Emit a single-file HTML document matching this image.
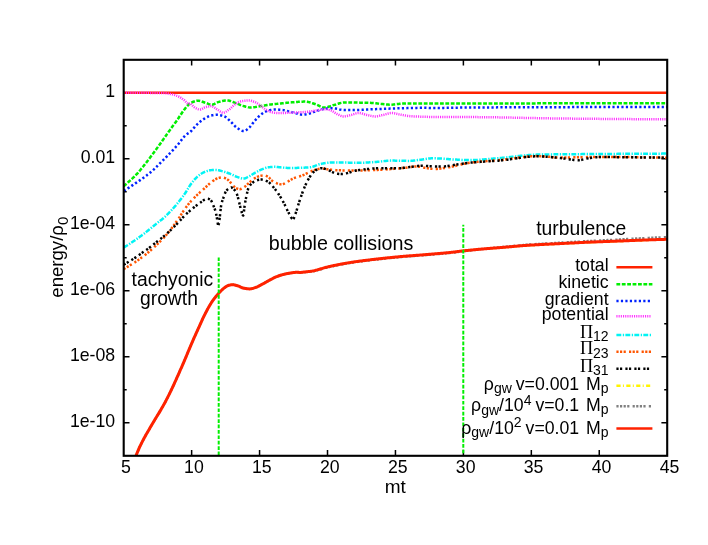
<!DOCTYPE html>
<html><head><meta charset="utf-8"><title>plot</title>
<style>
html,body{margin:0;padding:0;background:#fff}
#c{position:relative;width:708px;height:545px;background:#fff;overflow:hidden;font-family:"Liberation Sans",sans-serif;color:#000}
.t{position:absolute;white-space:nowrap;font-family:"Liberation Sans",sans-serif;will-change:transform}
</style></head><body><div id="c">
<svg width="708" height="545" viewBox="0 0 708 545" style="position:absolute;left:0;top:0">
<defs><clipPath id="pc"><rect x="123.70" y="59.80" width="543.50" height="396.00"/></clipPath></defs>
<path d="M191.64,455.80 v-5.80 M191.64,59.80 v5.80 M259.57,455.80 v-5.80 M259.57,59.80 v5.80 M327.51,455.80 v-5.80 M327.51,59.80 v5.80 M395.45,455.80 v-5.80 M395.45,59.80 v5.80 M463.39,455.80 v-5.80 M463.39,59.80 v5.80 M531.33,455.80 v-5.80 M531.33,59.80 v5.80 M599.26,455.80 v-5.80 M599.26,59.80 v5.80 M123.70,422.70 h5.80 M667.20,422.70 h-5.80 M123.70,389.70 h3.00 M667.20,389.70 h-3.00 M123.70,356.70 h5.80 M667.20,356.70 h-5.80 M123.70,323.70 h3.00 M667.20,323.70 h-3.00 M123.70,290.70 h5.80 M667.20,290.70 h-5.80 M123.70,257.70 h3.00 M667.20,257.70 h-3.00 M123.70,224.70 h5.80 M667.20,224.70 h-5.80 M123.70,191.70 h3.00 M667.20,191.70 h-3.00 M123.70,158.70 h5.80 M667.20,158.70 h-5.80 M123.70,125.70 h3.00 M667.20,125.70 h-3.00 M123.70,92.70 h5.80 M667.20,92.70 h-5.80" stroke="#000" fill="none" stroke-width="1.5"/>
<g clip-path="url(#pc)" stroke-linecap="butt" stroke-linejoin="round">
<path d="M123.70,92.70 L124.45,92.70 L125.20,92.70 L125.95,92.70 L126.70,92.70 L127.45,92.70 L128.20,92.70 L128.95,92.70 L129.70,92.70 L130.45,92.70 L131.20,92.70 L131.95,92.70 L132.70,92.70 L133.45,92.70 L134.20,92.70 L134.94,92.70 L135.69,92.70 L136.44,92.70 L137.19,92.70 L137.94,92.70 L138.69,92.70 L139.44,92.70 L140.19,92.70 L140.94,92.70 L141.69,92.70 L142.44,92.70 L143.19,92.70 L143.94,92.70 L144.69,92.70 L145.44,92.70 L146.19,92.70 L146.94,92.70 L147.69,92.70 L148.44,92.70 L149.19,92.70 L149.94,92.70 L150.69,92.70 L151.44,92.70 L152.19,92.70 L152.94,92.70 L153.69,92.70 L154.44,92.70 L155.19,92.70 L155.94,92.70 L156.68,92.70 L157.43,92.70 L158.18,92.70 L158.93,92.70 L159.68,92.70 L160.43,92.70 L161.18,92.70 L161.93,92.70 L162.68,92.70 L163.43,92.70 L164.18,92.70 L164.93,92.70 L165.68,92.70 L166.43,92.70 L167.18,92.70 L167.93,92.70 L168.68,92.70 L169.43,92.70 L170.18,92.70 L170.93,92.70 L171.68,92.70 L172.43,92.70 L173.18,92.70 L173.93,92.70 L174.68,92.70 L175.43,92.70 L176.18,92.70 L176.93,92.70 L177.68,92.70 L178.42,92.70 L179.17,92.70 L179.92,92.70 L180.67,92.70 L181.42,92.70 L182.17,92.70 L182.92,92.70 L183.67,92.70 L184.42,92.70 L185.17,92.70 L185.92,92.70 L186.67,92.70 L187.42,92.70 L188.17,92.70 L188.92,92.70 L189.67,92.70 L190.42,92.70 L191.17,92.70 L191.92,92.70 L192.67,92.70 L193.42,92.70 L194.17,92.70 L194.92,92.70 L195.67,92.70 L196.42,92.70 L197.17,92.70 L197.92,92.70 L198.67,92.70 L199.42,92.70 L200.16,92.70 L200.91,92.70 L201.66,92.70 L202.41,92.70 L203.16,92.70 L203.91,92.70 L204.66,92.70 L205.41,92.70 L206.16,92.70 L206.91,92.70 L207.66,92.70 L208.41,92.70 L209.16,92.70 L209.91,92.70 L210.66,92.70 L211.41,92.70 L212.16,92.70 L212.91,92.70 L213.66,92.70 L214.41,92.70 L215.16,92.70 L215.91,92.70 L216.66,92.70 L217.41,92.70 L218.16,92.70 L218.91,92.70 L219.66,92.70 L220.41,92.70 L221.16,92.70 L221.90,92.70 L222.65,92.70 L223.40,92.70 L224.15,92.70 L224.90,92.70 L225.65,92.70 L226.40,92.70 L227.15,92.70 L227.90,92.70 L228.65,92.70 L229.40,92.70 L230.15,92.70 L230.90,92.70 L231.65,92.70 L232.40,92.70 L233.15,92.70 L233.90,92.70 L234.65,92.70 L235.40,92.70 L236.15,92.70 L236.90,92.70 L237.65,92.70 L238.40,92.70 L239.15,92.70 L239.90,92.70 L240.65,92.70 L241.40,92.70 L242.15,92.70 L242.90,92.70 L243.64,92.70 L244.39,92.70 L245.14,92.70 L245.89,92.70 L246.64,92.70 L247.39,92.70 L248.14,92.70 L248.89,92.70 L249.64,92.70 L250.39,92.70 L251.14,92.70 L251.89,92.70 L252.64,92.70 L253.39,92.70 L254.14,92.70 L254.89,92.70 L255.64,92.70 L256.39,92.70 L257.14,92.70 L257.89,92.70 L258.64,92.70 L259.39,92.70 L260.14,92.70 L260.89,92.70 L261.64,92.70 L262.39,92.70 L263.14,92.70 L263.89,92.70 L264.64,92.70 L265.38,92.70 L266.13,92.70 L266.88,92.70 L267.63,92.70 L268.38,92.70 L269.13,92.70 L269.88,92.70 L270.63,92.70 L271.38,92.70 L272.13,92.70 L272.88,92.70 L273.63,92.70 L274.38,92.70 L275.13,92.70 L275.88,92.70 L276.63,92.70 L277.38,92.70 L278.13,92.70 L278.88,92.70 L279.63,92.70 L280.38,92.70 L281.13,92.70 L281.88,92.70 L282.63,92.70 L283.38,92.70 L284.13,92.70 L284.88,92.70 L285.63,92.70 L286.38,92.70 L287.12,92.70 L287.87,92.70 L288.62,92.70 L289.37,92.70 L290.12,92.70 L290.87,92.70 L291.62,92.70 L292.37,92.70 L293.12,92.70 L293.87,92.70 L294.62,92.70 L295.37,92.70 L296.12,92.70 L296.87,92.70 L297.62,92.70 L298.37,92.70 L299.12,92.70 L299.87,92.70 L300.00,92.70 L300.62,92.70 L301.37,92.70 L302.12,92.70 L302.87,92.70 L303.62,92.70 L304.37,92.70 L305.12,92.70 L305.87,92.70 L306.62,92.70 L307.37,92.70 L308.12,92.70 L308.86,92.70 L309.61,92.70 L310.36,92.70 L311.11,92.70 L311.86,92.70 L312.61,92.70 L313.36,92.70 L314.11,92.70 L314.86,92.70 L315.61,92.70 L316.36,92.70 L317.11,92.70 L317.86,92.70 L318.61,92.70 L319.36,92.70 L320.11,92.70 L320.86,92.70 L321.61,92.70 L322.36,92.70 L323.11,92.70 L323.86,92.70 L324.61,92.70 L325.36,92.70 L326.11,92.70 L326.86,92.70 L327.61,92.70 L328.36,92.70 L329.11,92.70 L329.86,92.70 L330.60,92.70 L331.35,92.70 L332.10,92.70 L332.85,92.70 L333.60,92.70 L334.35,92.70 L335.10,92.70 L335.85,92.70 L336.60,92.70 L337.35,92.70 L338.10,92.70 L338.85,92.70 L339.60,92.70 L340.35,92.70 L341.10,92.70 L341.85,92.70 L342.60,92.70 L343.35,92.70 L344.10,92.70 L344.85,92.70 L345.60,92.70 L346.35,92.70 L347.10,92.70 L347.85,92.70 L348.60,92.70 L349.35,92.70 L350.10,92.70 L350.85,92.70 L351.60,92.70 L352.34,92.70 L353.09,92.70 L353.84,92.70 L354.59,92.70 L355.34,92.70 L356.09,92.70 L356.84,92.70 L357.59,92.70 L358.34,92.70 L359.09,92.70 L359.84,92.70 L360.59,92.70 L361.34,92.70 L362.09,92.70 L362.84,92.70 L363.59,92.70 L364.34,92.70 L365.09,92.70 L365.84,92.70 L366.59,92.70 L367.34,92.70 L368.09,92.70 L368.84,92.70 L369.59,92.70 L370.34,92.70 L371.09,92.70 L371.84,92.70 L372.59,92.70 L373.34,92.70 L374.08,92.70 L374.83,92.70 L375.58,92.70 L376.33,92.70 L377.08,92.70 L377.83,92.70 L378.58,92.70 L379.33,92.70 L380.08,92.70 L380.83,92.70 L381.58,92.70 L382.33,92.70 L383.08,92.70 L383.83,92.70 L384.58,92.70 L385.33,92.70 L386.08,92.70 L386.83,92.70 L387.58,92.70 L388.33,92.70 L389.08,92.70 L389.83,92.70 L390.58,92.70 L391.33,92.70 L392.08,92.70 L392.83,92.70 L393.58,92.70 L394.33,92.70 L395.08,92.70 L395.82,92.70 L396.57,92.70 L397.32,92.70 L398.07,92.70 L398.82,92.70 L399.57,92.70 L400.32,92.70 L401.07,92.70 L401.82,92.70 L402.57,92.70 L403.32,92.70 L404.07,92.70 L404.82,92.70 L405.57,92.70 L406.32,92.70 L407.07,92.70 L407.82,92.70 L408.57,92.70 L409.32,92.70 L410.07,92.70 L410.82,92.70 L411.57,92.70 L412.32,92.70 L413.07,92.70 L413.82,92.70 L414.57,92.70 L415.32,92.70 L416.07,92.70 L416.82,92.70 L417.56,92.70 L418.31,92.70 L419.06,92.70 L419.81,92.70 L420.56,92.70 L421.31,92.70 L422.06,92.70 L422.81,92.70 L423.56,92.70 L424.31,92.70 L425.06,92.70 L425.81,92.70 L426.56,92.70 L427.31,92.70 L428.06,92.70 L428.81,92.70 L429.56,92.70 L430.31,92.70 L431.06,92.70 L431.81,92.70 L432.56,92.70 L433.31,92.70 L434.06,92.70 L434.81,92.70 L435.56,92.70 L436.31,92.70 L437.06,92.70 L437.81,92.70 L438.56,92.70 L439.30,92.70 L440.05,92.70 L440.80,92.70 L441.55,92.70 L442.30,92.70 L443.05,92.70 L443.80,92.70 L444.55,92.70 L445.30,92.70 L446.05,92.70 L446.80,92.70 L447.55,92.70 L448.30,92.70 L449.05,92.70 L449.80,92.70 L450.55,92.70 L451.30,92.70 L452.05,92.70 L452.80,92.70 L453.55,92.70 L454.30,92.70 L455.05,92.70 L455.80,92.70 L456.55,92.70 L457.30,92.70 L458.05,92.70 L458.80,92.70 L459.55,92.70 L460.30,92.70 L461.04,92.70 L461.79,92.70 L462.54,92.70 L463.29,92.70 L464.04,92.70 L464.79,92.70 L465.54,92.70 L466.29,92.70 L467.04,92.70 L467.79,92.70 L468.54,92.70 L469.29,92.70 L470.04,92.70 L470.79,92.70 L471.54,92.70 L472.29,92.70 L473.04,92.70 L473.79,92.70 L474.54,92.70 L475.29,92.70 L476.04,92.70 L476.79,92.70 L477.54,92.70 L478.29,92.70 L479.04,92.70 L479.79,92.70 L480.54,92.70 L481.29,92.70 L482.04,92.70 L482.78,92.70 L483.53,92.70 L484.28,92.70 L485.03,92.70 L485.78,92.70 L486.53,92.70 L487.28,92.70 L488.03,92.70 L488.78,92.70 L489.53,92.70 L490.28,92.70 L491.03,92.70 L491.78,92.70 L492.53,92.70 L493.28,92.70 L494.03,92.70 L494.78,92.70 L495.53,92.70 L496.28,92.70 L497.03,92.70 L497.78,92.70 L498.53,92.70 L499.28,92.70 L500.03,92.70 L500.78,92.70 L501.53,92.70 L502.28,92.70 L503.03,92.70 L503.78,92.70 L504.52,92.70 L505.27,92.70 L506.02,92.70 L506.77,92.70 L507.52,92.70 L508.27,92.70 L509.02,92.70 L509.77,92.70 L510.52,92.70 L511.27,92.70 L512.02,92.70 L512.77,92.70 L513.52,92.70 L514.27,92.70 L515.02,92.70 L515.77,92.70 L516.52,92.70 L517.27,92.70 L518.02,92.70 L518.77,92.70 L519.52,92.70 L520.27,92.70 L521.02,92.70 L521.77,92.70 L522.52,92.70 L523.27,92.70 L524.02,92.70 L524.77,92.70 L525.52,92.70 L526.26,92.70 L527.01,92.70 L527.76,92.70 L528.51,92.70 L529.26,92.70 L530.01,92.70 L530.76,92.70 L531.51,92.70 L532.26,92.70 L533.01,92.70 L533.76,92.70 L534.51,92.70 L535.26,92.70 L536.01,92.70 L536.76,92.70 L537.51,92.70 L538.26,92.70 L539.01,92.70 L539.76,92.70 L540.51,92.70 L541.26,92.70 L542.01,92.70 L542.76,92.70 L543.51,92.70 L544.26,92.70 L545.01,92.70 L545.76,92.70 L546.51,92.70 L547.26,92.70 L548.00,92.70 L548.75,92.70 L549.50,92.70 L550.25,92.70 L551.00,92.70 L551.75,92.70 L552.50,92.70 L553.25,92.70 L554.00,92.70 L554.75,92.70 L555.50,92.70 L556.25,92.70 L557.00,92.70 L557.75,92.70 L558.50,92.70 L559.25,92.70 L560.00,92.70 L560.75,92.70 L561.50,92.70 L562.25,92.70 L563.00,92.70 L563.75,92.70 L564.50,92.70 L565.25,92.70 L566.00,92.70 L566.75,92.70 L567.50,92.70 L568.25,92.70 L569.00,92.70 L569.74,92.70 L570.49,92.70 L571.24,92.70 L571.99,92.70 L572.74,92.70 L573.49,92.70 L574.24,92.70 L574.99,92.70 L575.74,92.70 L576.49,92.70 L577.24,92.70 L577.99,92.70 L578.74,92.70 L579.49,92.70 L580.24,92.70 L580.99,92.70 L581.74,92.70 L582.49,92.70 L583.24,92.70 L583.99,92.70 L584.74,92.70 L585.49,92.70 L586.24,92.70 L586.99,92.70 L587.74,92.70 L588.49,92.70 L589.24,92.70 L589.99,92.70 L590.74,92.70 L591.48,92.70 L592.23,92.70 L592.98,92.70 L593.73,92.70 L594.48,92.70 L595.23,92.70 L595.98,92.70 L596.73,92.70 L597.48,92.70 L598.23,92.70 L598.98,92.70 L599.73,92.70 L600.48,92.70 L601.23,92.70 L601.98,92.70 L602.73,92.70 L603.48,92.70 L604.23,92.70 L604.98,92.70 L605.73,92.70 L606.48,92.70 L607.23,92.70 L607.98,92.70 L608.73,92.70 L609.48,92.70 L610.23,92.70 L610.98,92.70 L611.73,92.70 L612.48,92.70 L613.22,92.70 L613.97,92.70 L614.72,92.70 L615.47,92.70 L616.22,92.70 L616.97,92.70 L617.72,92.70 L618.47,92.70 L619.22,92.70 L619.97,92.70 L620.72,92.70 L621.47,92.70 L622.22,92.70 L622.97,92.70 L623.72,92.70 L624.47,92.70 L625.22,92.70 L625.97,92.70 L626.72,92.70 L627.47,92.70 L628.22,92.70 L628.97,92.70 L629.72,92.70 L630.47,92.70 L631.22,92.70 L631.97,92.70 L632.72,92.70 L633.47,92.70 L634.22,92.70 L634.96,92.70 L635.71,92.70 L636.46,92.70 L637.21,92.70 L637.96,92.70 L638.71,92.70 L639.46,92.70 L640.21,92.70 L640.96,92.70 L641.71,92.70 L642.46,92.70 L643.21,92.70 L643.96,92.70 L644.71,92.70 L645.46,92.70 L646.21,92.70 L646.96,92.70 L647.71,92.70 L648.46,92.70 L649.21,92.70 L649.96,92.70 L650.71,92.70 L651.46,92.70 L652.21,92.70 L652.96,92.70 L653.71,92.70 L654.46,92.70 L655.21,92.70 L655.96,92.70 L656.70,92.70 L657.45,92.70 L658.20,92.70 L658.95,92.70 L659.70,92.70 L660.45,92.70 L661.20,92.70 L661.95,92.70 L662.70,92.70 L663.45,92.70 L664.20,92.70 L664.95,92.70 L665.70,92.70 L666.45,92.70 L667.20,92.70" fill="none" stroke="#ff2200" stroke-width="2.5"/>
<path d="M123.70,186.30 L124.45,185.61 L125.00,185.10 L125.20,184.92 L125.95,184.23 L126.70,183.55 L127.45,182.88 L128.20,182.21 L128.95,181.54 L129.70,180.88 L130.45,180.20 L131.20,179.53 L131.95,178.84 L132.70,178.15 L133.45,177.45 L134.20,176.73 L134.94,175.99 L135.69,175.23 L136.44,174.46 L136.50,174.40 L137.19,173.66 L137.94,172.83 L138.69,171.98 L139.44,171.10 L140.19,170.21 L140.94,169.30 L141.69,168.38 L142.44,167.45 L143.19,166.52 L143.94,165.58 L144.69,164.64 L144.80,164.50 L145.44,163.69 L146.19,162.74 L146.94,161.77 L147.69,160.80 L148.44,159.81 L149.19,158.82 L149.94,157.82 L150.69,156.82 L151.44,155.81 L152.19,154.80 L152.94,153.79 L153.00,153.70 L153.69,152.77 L154.44,151.75 L155.19,150.72 L155.94,149.69 L156.68,148.65 L157.43,147.61 L158.18,146.56 L158.93,145.51 L159.68,144.46 L160.43,143.41 L161.18,142.36 L161.30,142.20 L161.93,141.31 L162.68,140.26 L163.43,139.20 L164.18,138.13 L164.93,137.07 L165.68,136.00 L166.43,134.94 L167.18,133.87 L167.93,132.81 L168.68,131.75 L169.43,130.70 L169.50,130.60 L170.18,129.65 L170.93,128.62 L171.68,127.59 L172.43,126.57 L173.18,125.55 L173.93,124.52 L174.68,123.49 L175.43,122.46 L176.18,121.41 L176.93,120.35 L177.68,119.28 L177.80,119.10 L178.42,118.18 L179.17,117.05 L179.92,115.91 L180.67,114.78 L181.00,114.30 L181.42,113.68 L182.17,112.57 L182.92,111.49 L183.67,110.44 L184.00,110.00 L184.42,109.44 L185.17,108.46 L185.92,107.52 L186.67,106.65 L187.00,106.30 L187.42,105.86 L188.17,105.11 L188.92,104.40 L189.67,103.78 L190.20,103.40 L190.42,103.26 L191.17,102.79 L191.92,102.38 L192.67,102.02 L193.42,101.73 L193.50,101.70 L194.17,101.48 L194.92,101.24 L195.67,101.02 L196.42,100.85 L197.17,100.73 L197.80,100.70 L197.92,100.70 L198.67,100.75 L199.42,100.86 L200.16,101.03 L200.91,101.24 L201.66,101.48 L202.41,101.74 L203.16,102.01 L203.91,102.28 L204.66,102.54 L205.41,102.77 L205.50,102.80 L206.16,103.01 L206.91,103.28 L207.66,103.57 L208.41,103.87 L209.16,104.14 L209.91,104.38 L210.66,104.57 L211.41,104.68 L211.90,104.70 L212.16,104.69 L212.91,104.56 L213.66,104.30 L214.41,103.95 L215.16,103.55 L215.91,103.13 L216.66,102.73 L217.41,102.38 L218.16,102.11 L218.20,102.10 L218.91,101.91 L219.66,101.70 L220.41,101.50 L221.16,101.30 L221.90,101.12 L222.65,100.94 L223.40,100.79 L224.15,100.65 L224.90,100.54 L225.65,100.46 L226.40,100.41 L227.00,100.40 L227.15,100.40 L227.90,100.45 L228.65,100.56 L229.40,100.73 L230.15,100.94 L230.90,101.18 L231.65,101.45 L232.40,101.74 L233.15,102.03 L233.90,102.32 L234.65,102.60 L235.20,102.80 L235.40,102.87 L236.15,103.15 L236.90,103.47 L237.65,103.80 L238.40,104.14 L239.15,104.48 L239.90,104.81 L240.65,105.13 L241.40,105.41 L242.15,105.66 L242.30,105.70 L242.90,105.87 L243.64,106.09 L244.39,106.31 L245.14,106.53 L245.89,106.74 L246.64,106.93 L247.39,107.11 L248.14,107.25 L248.89,107.37 L249.64,107.45 L250.39,107.50 L250.70,107.50 L251.14,107.49 L251.89,107.46 L252.64,107.41 L253.39,107.33 L254.14,107.23 L254.89,107.12 L255.64,106.99 L256.39,106.86 L257.14,106.72 L257.89,106.58 L258.64,106.44 L259.39,106.30 L260.14,106.17 L260.60,106.10 L260.89,106.06 L261.64,105.94 L262.39,105.81 L263.14,105.68 L263.89,105.55 L264.64,105.41 L265.38,105.28 L266.13,105.15 L266.88,105.03 L267.63,104.91 L268.38,104.80 L269.10,104.70 L269.13,104.70 L269.88,104.60 L270.63,104.51 L271.38,104.42 L272.13,104.34 L272.88,104.26 L273.63,104.18 L274.38,104.10 L275.13,104.03 L275.88,103.95 L276.63,103.88 L277.38,103.80 L278.13,103.73 L278.88,103.66 L279.63,103.58 L280.38,103.50 L280.40,103.50 L281.13,103.42 L281.88,103.34 L282.63,103.26 L283.38,103.17 L284.13,103.09 L284.88,103.00 L285.63,102.92 L286.38,102.84 L287.12,102.76 L287.87,102.69 L288.62,102.62 L289.37,102.55 L290.00,102.50 L290.12,102.49 L290.87,102.43 L291.62,102.37 L292.37,102.31 L293.12,102.25 L293.87,102.19 L294.62,102.12 L295.37,102.06 L296.12,102.01 L296.87,101.95 L297.62,101.90 L298.37,101.85 L299.12,101.80 L299.87,101.75 L300.62,101.72 L301.37,101.68 L302.12,101.65 L302.87,101.63 L303.62,101.61 L304.37,101.60 L305.00,101.60 L305.12,101.60 L305.87,101.63 L306.62,101.70 L307.37,101.81 L308.12,101.96 L308.86,102.13 L309.61,102.32 L310.36,102.54 L311.11,102.77 L311.86,103.01 L312.61,103.25 L313.36,103.49 L314.11,103.73 L314.86,103.96 L315.00,104.00 L315.61,104.20 L316.36,104.49 L317.11,104.83 L317.86,105.19 L318.61,105.57 L319.36,105.95 L320.11,106.31 L320.86,106.65 L321.61,106.95 L322.36,107.20 L323.11,107.38 L323.86,107.48 L324.30,107.50 L324.61,107.49 L325.36,107.44 L326.11,107.34 L326.86,107.19 L327.61,107.01 L328.36,106.80 L329.11,106.57 L329.86,106.32 L330.60,106.06 L331.35,105.81 L332.10,105.56 L332.85,105.32 L333.60,105.10 L334.00,105.00 L334.35,104.91 L335.10,104.70 L335.85,104.48 L336.60,104.24 L337.35,104.00 L338.10,103.76 L338.85,103.52 L339.60,103.29 L340.35,103.08 L341.10,102.88 L341.85,102.72 L342.60,102.58 L343.35,102.48 L344.10,102.42 L344.70,102.40 L344.85,102.40 L345.60,102.40 L346.35,102.41 L347.10,102.41 L347.85,102.42 L348.60,102.43 L349.35,102.44 L350.10,102.45 L350.85,102.46 L351.60,102.47 L352.34,102.49 L353.09,102.50 L353.84,102.52 L354.59,102.53 L355.34,102.55 L356.09,102.56 L356.84,102.58 L357.59,102.59 L358.00,102.60 L358.34,102.61 L359.09,102.62 L359.84,102.63 L360.59,102.64 L361.34,102.66 L362.09,102.67 L362.84,102.68 L363.59,102.70 L364.34,102.71 L365.09,102.72 L365.84,102.74 L366.59,102.76 L367.34,102.77 L368.09,102.79 L368.84,102.82 L369.59,102.84 L370.34,102.86 L371.09,102.89 L371.40,102.90 L371.84,102.92 L372.59,102.96 L373.34,103.02 L374.08,103.09 L374.83,103.16 L375.58,103.25 L376.33,103.33 L377.08,103.43 L377.83,103.52 L378.58,103.62 L379.33,103.71 L380.08,103.80 L380.83,103.88 L381.58,103.96 L382.00,104.00 L382.33,104.03 L383.08,104.11 L383.83,104.19 L384.58,104.27 L385.33,104.35 L386.08,104.43 L386.83,104.50 L387.58,104.57 L388.33,104.62 L389.08,104.67 L389.83,104.69 L390.50,104.70 L390.58,104.70 L391.33,104.68 L392.08,104.64 L392.83,104.58 L393.58,104.50 L394.33,104.41 L395.08,104.32 L395.82,104.23 L396.57,104.14 L397.32,104.06 L398.00,104.00 L398.07,103.99 L398.82,103.93 L399.57,103.87 L400.32,103.80 L401.07,103.73 L401.82,103.67 L402.57,103.61 L403.32,103.55 L404.07,103.50 L404.82,103.46 L405.57,103.43 L406.32,103.41 L407.00,103.40 L407.07,103.40 L407.82,103.40 L408.57,103.40 L409.32,103.40 L410.07,103.40 L410.82,103.40 L411.57,103.40 L412.32,103.40 L413.07,103.40 L413.82,103.40 L414.57,103.40 L415.32,103.40 L416.07,103.40 L416.82,103.40 L417.56,103.40 L418.31,103.40 L419.06,103.40 L419.81,103.40 L420.56,103.40 L421.31,103.40 L422.06,103.40 L422.81,103.40 L423.56,103.40 L424.31,103.40 L425.06,103.40 L425.81,103.40 L426.56,103.40 L427.31,103.40 L428.06,103.40 L428.81,103.40 L429.56,103.40 L430.00,103.40 L430.31,103.40 L431.06,103.40 L431.81,103.40 L432.56,103.40 L433.31,103.40 L434.06,103.40 L434.81,103.40 L435.56,103.40 L436.31,103.40 L437.06,103.40 L437.81,103.40 L438.56,103.40 L439.30,103.40 L440.05,103.40 L440.80,103.40 L441.55,103.40 L442.30,103.40 L443.05,103.40 L443.80,103.40 L444.55,103.40 L445.30,103.40 L446.05,103.40 L446.80,103.40 L447.55,103.40 L448.30,103.40 L449.05,103.40 L449.80,103.40 L450.55,103.40 L451.30,103.40 L452.05,103.40 L452.80,103.40 L453.55,103.40 L454.30,103.40 L455.05,103.40 L455.80,103.40 L456.55,103.40 L457.30,103.40 L458.05,103.40 L458.80,103.40 L459.55,103.40 L460.30,103.40 L461.04,103.40 L461.79,103.40 L462.54,103.40 L463.29,103.40 L464.04,103.40 L464.79,103.40 L465.54,103.40 L466.29,103.40 L467.04,103.40 L467.79,103.40 L468.54,103.40 L469.29,103.40 L470.00,103.40 L470.04,103.40 L470.79,103.40 L471.54,103.40 L472.29,103.40 L473.04,103.40 L473.79,103.40 L474.54,103.40 L475.29,103.40 L476.04,103.40 L476.79,103.40 L477.54,103.40 L478.29,103.40 L479.04,103.40 L479.79,103.40 L480.54,103.40 L481.29,103.40 L482.04,103.40 L482.78,103.40 L483.53,103.40 L484.28,103.40 L485.03,103.40 L485.78,103.40 L486.53,103.40 L487.28,103.40 L488.03,103.40 L488.78,103.40 L489.53,103.40 L490.28,103.40 L491.03,103.40 L491.78,103.40 L492.53,103.40 L493.28,103.40 L494.03,103.40 L494.78,103.40 L495.53,103.40 L496.28,103.40 L497.03,103.40 L497.78,103.40 L498.53,103.40 L499.28,103.39 L500.03,103.39 L500.78,103.39 L501.53,103.39 L502.28,103.39 L503.03,103.39 L503.78,103.39 L504.52,103.39 L505.27,103.39 L506.02,103.39 L506.77,103.39 L507.52,103.39 L508.27,103.39 L509.02,103.39 L509.77,103.39 L510.52,103.39 L511.27,103.39 L512.02,103.39 L512.77,103.39 L513.52,103.39 L514.27,103.39 L515.02,103.39 L515.77,103.39 L516.52,103.39 L517.27,103.39 L518.02,103.39 L518.77,103.39 L519.52,103.39 L520.27,103.39 L521.02,103.38 L521.77,103.38 L522.52,103.38 L523.27,103.38 L524.02,103.38 L524.77,103.38 L525.52,103.38 L526.26,103.38 L527.01,103.38 L527.76,103.38 L528.51,103.38 L529.26,103.38 L530.01,103.38 L530.76,103.38 L531.51,103.38 L532.26,103.38 L533.01,103.38 L533.76,103.38 L534.51,103.38 L535.26,103.38 L536.01,103.38 L536.76,103.37 L537.51,103.37 L538.26,103.37 L539.01,103.37 L539.76,103.37 L540.51,103.37 L541.26,103.37 L542.01,103.37 L542.76,103.37 L543.51,103.37 L544.26,103.37 L545.01,103.37 L545.76,103.37 L546.51,103.37 L547.26,103.37 L548.00,103.37 L548.75,103.36 L549.50,103.36 L550.25,103.36 L551.00,103.36 L551.75,103.36 L552.50,103.36 L553.25,103.36 L554.00,103.36 L554.75,103.36 L555.50,103.36 L556.25,103.36 L557.00,103.36 L557.75,103.36 L558.50,103.36 L559.25,103.36 L560.00,103.35 L560.75,103.35 L561.50,103.35 L562.25,103.35 L563.00,103.35 L563.75,103.35 L564.50,103.35 L565.25,103.35 L566.00,103.35 L566.75,103.35 L567.50,103.35 L568.25,103.35 L569.00,103.35 L569.74,103.34 L570.49,103.34 L571.24,103.34 L571.99,103.34 L572.74,103.34 L573.49,103.34 L574.24,103.34 L574.99,103.34 L575.74,103.34 L576.49,103.34 L577.24,103.34 L577.99,103.34 L578.74,103.33 L579.49,103.33 L580.24,103.33 L580.99,103.33 L581.74,103.33 L582.49,103.33 L583.24,103.33 L583.99,103.33 L584.74,103.33 L585.49,103.33 L586.24,103.33 L586.99,103.32 L587.74,103.32 L588.49,103.32 L589.24,103.32 L589.99,103.32 L590.74,103.32 L591.48,103.32 L592.23,103.32 L592.98,103.32 L593.73,103.32 L594.48,103.32 L595.23,103.31 L595.98,103.31 L596.73,103.31 L597.48,103.31 L598.23,103.31 L598.98,103.31 L599.73,103.31 L600.48,103.31 L601.23,103.31 L601.98,103.31 L602.73,103.30 L603.48,103.30 L604.23,103.30 L604.98,103.30 L605.73,103.30 L606.48,103.30 L607.23,103.30 L607.98,103.30 L608.73,103.30 L609.48,103.30 L610.23,103.29 L610.98,103.29 L611.73,103.29 L612.48,103.29 L613.22,103.29 L613.97,103.29 L614.72,103.29 L615.47,103.29 L616.22,103.29 L616.97,103.28 L617.72,103.28 L618.47,103.28 L619.22,103.28 L619.97,103.28 L620.72,103.28 L621.47,103.28 L622.22,103.28 L622.97,103.28 L623.72,103.27 L624.47,103.27 L625.22,103.27 L625.97,103.27 L626.72,103.27 L627.47,103.27 L628.22,103.27 L628.97,103.27 L629.72,103.26 L630.47,103.26 L631.22,103.26 L631.97,103.26 L632.72,103.26 L633.47,103.26 L634.22,103.26 L634.96,103.26 L635.71,103.25 L636.46,103.25 L637.21,103.25 L637.96,103.25 L638.71,103.25 L639.46,103.25 L640.21,103.25 L640.96,103.25 L641.71,103.25 L642.46,103.24 L643.21,103.24 L643.96,103.24 L644.71,103.24 L645.46,103.24 L646.21,103.24 L646.96,103.24 L647.71,103.23 L648.46,103.23 L649.21,103.23 L649.96,103.23 L650.71,103.23 L651.46,103.23 L652.21,103.23 L652.96,103.23 L653.71,103.22 L654.46,103.22 L655.21,103.22 L655.96,103.22 L656.70,103.22 L657.45,103.22 L658.20,103.22 L658.95,103.22 L659.70,103.21 L660.45,103.21 L661.20,103.21 L661.95,103.21 L662.70,103.21 L663.45,103.21 L664.20,103.21 L664.95,103.20 L665.70,103.20 L666.45,103.20 L667.20,103.20" fill="none" stroke="#00ee00" stroke-width="2.5" stroke-dasharray="3.8 1.6"/>
<path d="M123.70,190.70 L124.45,190.30 L125.00,190.00 L125.20,189.89 L125.95,189.45 L126.70,189.00 L127.45,188.54 L128.20,188.08 L128.95,187.61 L129.70,187.13 L130.45,186.64 L131.20,186.15 L131.95,185.65 L132.70,185.16 L133.45,184.65 L134.20,184.15 L134.94,183.65 L135.69,183.14 L136.44,182.64 L136.50,182.60 L137.19,182.13 L137.94,181.63 L138.69,181.12 L139.44,180.61 L140.19,180.10 L140.94,179.58 L141.69,179.05 L142.44,178.52 L143.19,177.98 L143.94,177.44 L144.69,176.88 L144.80,176.80 L145.44,176.32 L146.19,175.75 L146.94,175.18 L147.69,174.60 L148.44,174.01 L149.19,173.41 L149.94,172.80 L150.69,172.19 L151.44,171.56 L152.19,170.91 L152.94,170.26 L153.00,170.20 L153.69,169.58 L154.44,168.88 L155.19,168.17 L155.94,167.43 L156.68,166.69 L157.43,165.93 L158.18,165.17 L158.93,164.40 L159.68,163.64 L160.43,162.87 L161.18,162.12 L161.30,162.00 L161.93,161.37 L162.68,160.62 L163.43,159.87 L164.18,159.12 L164.93,158.37 L165.68,157.62 L166.43,156.86 L167.18,156.10 L167.93,155.33 L168.68,154.55 L169.43,153.77 L169.50,153.70 L170.18,152.99 L170.93,152.20 L171.68,151.41 L172.43,150.61 L173.18,149.81 L173.93,149.00 L174.68,148.19 L175.43,147.36 L176.18,146.53 L176.93,145.69 L177.68,144.84 L177.80,144.70 L178.42,143.96 L179.17,143.03 L179.92,142.06 L180.67,141.07 L181.42,140.07 L182.17,139.08 L182.92,138.12 L183.67,137.20 L184.42,136.34 L185.17,135.56 L185.92,134.87 L186.00,134.80 L186.67,134.28 L187.42,133.79 L188.17,133.34 L188.92,132.87 L189.67,132.36 L190.00,132.10 L190.42,131.74 L191.17,131.03 L191.92,130.23 L192.67,129.38 L193.42,128.50 L194.17,127.61 L194.92,126.72 L195.67,125.87 L196.42,125.07 L197.10,124.40 L197.17,124.34 L197.92,123.65 L198.67,122.98 L199.42,122.31 L200.16,121.67 L200.91,121.05 L201.66,120.46 L202.41,119.91 L203.16,119.39 L203.91,118.91 L204.10,118.80 L204.66,118.47 L205.41,118.03 L206.16,117.60 L206.91,117.18 L207.66,116.79 L208.41,116.43 L209.16,116.11 L209.91,115.84 L210.66,115.62 L211.20,115.50 L211.41,115.46 L212.16,115.32 L212.91,115.19 L213.66,115.06 L214.41,114.96 L215.16,114.88 L215.91,114.82 L216.66,114.80 L216.80,114.80 L217.41,114.81 L218.16,114.87 L218.91,114.96 L219.66,115.08 L220.41,115.23 L221.16,115.41 L221.90,115.60 L222.65,115.82 L223.40,116.04 L223.90,116.20 L224.15,116.29 L224.90,116.63 L225.65,117.09 L226.40,117.65 L227.15,118.27 L227.90,118.95 L228.65,119.67 L229.40,120.39 L230.15,121.11 L230.90,121.81 L231.00,121.90 L231.65,122.52 L232.40,123.30 L233.15,124.13 L233.90,124.96 L234.65,125.77 L235.40,126.51 L236.15,127.17 L236.60,127.50 L236.90,127.70 L237.65,128.23 L238.40,128.76 L239.15,129.27 L239.90,129.75 L240.65,130.19 L241.40,130.55 L242.15,130.84 L242.90,131.03 L243.64,131.10 L243.70,131.10 L244.39,131.01 L245.14,130.74 L245.89,130.32 L246.64,129.78 L247.39,129.17 L248.14,128.51 L248.89,127.85 L249.30,127.50 L249.64,127.19 L250.39,126.41 L251.14,125.52 L251.89,124.54 L252.64,123.52 L253.39,122.51 L254.14,121.53 L254.89,120.62 L255.00,120.50 L255.64,119.79 L256.39,118.95 L257.14,118.12 L257.89,117.31 L258.64,116.55 L259.39,115.83 L260.14,115.17 L260.60,114.80 L260.89,114.58 L261.64,114.01 L262.39,113.46 L263.14,112.94 L263.89,112.46 L264.64,112.03 L265.38,111.66 L266.13,111.36 L266.30,111.30 L266.88,111.11 L267.63,110.87 L268.38,110.64 L269.13,110.42 L269.88,110.21 L270.63,110.02 L271.38,109.86 L272.13,109.72 L272.88,109.62 L273.63,109.54 L274.38,109.50 L274.70,109.50 L275.13,109.50 L275.88,109.52 L276.63,109.54 L277.38,109.57 L278.13,109.61 L278.88,109.66 L279.63,109.72 L280.38,109.78 L281.13,109.84 L281.80,109.90 L281.88,109.91 L282.63,109.99 L283.38,110.11 L284.13,110.24 L284.88,110.40 L285.63,110.58 L286.38,110.76 L287.12,110.96 L287.87,111.15 L288.62,111.35 L289.37,111.54 L290.00,111.70 L290.12,111.73 L290.87,111.92 L291.62,112.12 L292.37,112.33 L293.12,112.54 L293.87,112.75 L294.62,112.95 L295.37,113.15 L296.00,113.30 L296.12,113.33 L296.87,113.52 L297.62,113.72 L298.37,113.93 L299.12,114.13 L299.87,114.31 L300.62,114.47 L301.37,114.60 L302.12,114.67 L302.80,114.70 L302.87,114.70 L303.62,114.67 L304.37,114.59 L305.12,114.48 L305.87,114.34 L306.62,114.17 L307.37,114.00 L308.12,113.81 L308.86,113.63 L309.00,113.60 L309.61,113.44 L310.36,113.22 L311.11,112.97 L311.86,112.70 L312.61,112.43 L313.36,112.16 L314.11,111.89 L314.70,111.70 L314.86,111.65 L315.61,111.40 L316.36,111.14 L317.11,110.88 L317.86,110.61 L318.61,110.35 L319.36,110.09 L320.11,109.84 L320.86,109.60 L321.61,109.39 L322.36,109.19 L323.11,109.03 L323.86,108.89 L324.50,108.80 L324.61,108.79 L325.36,108.70 L326.11,108.62 L326.86,108.54 L327.61,108.46 L328.36,108.39 L329.11,108.34 L329.86,108.28 L330.60,108.24 L331.35,108.22 L332.10,108.20 L332.50,108.20 L332.85,108.21 L333.60,108.25 L334.35,108.33 L335.10,108.44 L335.85,108.57 L336.60,108.73 L337.35,108.90 L338.10,109.08 L338.85,109.26 L339.60,109.44 L340.35,109.60 L341.10,109.76 L341.85,109.89 L342.60,109.99 L343.35,110.06 L344.10,110.10 L344.30,110.10 L344.85,110.10 L345.60,110.10 L346.35,110.10 L347.10,110.10 L347.85,110.10 L348.60,110.10 L349.35,110.10 L350.10,110.10 L350.85,110.10 L351.60,110.10 L352.34,110.10 L353.09,110.10 L353.84,110.10 L354.20,110.10 L354.59,110.10 L355.34,110.09 L356.09,110.08 L356.84,110.07 L357.59,110.05 L358.34,110.03 L359.09,110.00 L359.84,109.97 L360.59,109.93 L361.34,109.90 L362.09,109.86 L362.84,109.82 L363.59,109.78 L364.34,109.73 L365.09,109.69 L365.84,109.64 L366.59,109.60 L367.34,109.55 L368.09,109.51 L368.84,109.46 L369.59,109.42 L370.34,109.38 L371.09,109.34 L371.84,109.30 L372.59,109.26 L373.34,109.23 L374.00,109.20 L374.08,109.20 L374.83,109.17 L375.58,109.14 L376.33,109.11 L377.08,109.08 L377.83,109.05 L378.58,109.02 L379.33,108.99 L380.08,108.96 L380.83,108.94 L381.58,108.91 L382.33,108.88 L383.08,108.85 L383.83,108.82 L384.58,108.80 L385.33,108.77 L386.08,108.74 L386.83,108.71 L387.58,108.69 L388.33,108.66 L389.08,108.64 L389.83,108.61 L390.58,108.58 L391.33,108.56 L392.08,108.53 L392.83,108.51 L393.58,108.48 L394.33,108.46 L395.08,108.44 L395.82,108.41 L396.57,108.39 L397.32,108.37 L398.07,108.35 L398.82,108.33 L399.57,108.31 L400.32,108.29 L401.07,108.27 L401.82,108.25 L402.57,108.23 L403.32,108.21 L403.70,108.20 L404.07,108.19 L404.82,108.17 L405.57,108.15 L406.32,108.14 L407.07,108.12 L407.82,108.10 L408.57,108.08 L409.32,108.06 L410.07,108.04 L410.82,108.02 L411.57,108.00 L412.32,107.98 L413.07,107.97 L413.82,107.95 L414.57,107.93 L415.32,107.92 L416.07,107.90 L416.82,107.89 L417.56,107.87 L418.31,107.86 L419.06,107.85 L419.81,107.84 L420.56,107.83 L421.31,107.82 L422.06,107.81 L422.81,107.81 L423.56,107.80 L424.31,107.80 L425.00,107.80 L425.06,107.80 L425.81,107.81 L426.56,107.85 L427.31,107.89 L428.06,107.93 L428.81,107.97 L429.56,108.00 L430.00,108.00 L430.31,108.00 L431.06,108.00 L431.81,108.00 L432.56,107.99 L433.31,107.99 L434.06,107.99 L434.81,107.98 L435.56,107.98 L436.31,107.97 L437.06,107.96 L437.81,107.96 L438.56,107.95 L439.30,107.94 L440.05,107.93 L440.80,107.92 L441.55,107.91 L442.30,107.90 L443.05,107.89 L443.80,107.88 L444.55,107.87 L445.30,107.85 L446.05,107.84 L446.80,107.83 L447.55,107.82 L448.30,107.80 L449.05,107.79 L449.80,107.78 L450.55,107.77 L451.30,107.75 L452.05,107.74 L452.80,107.73 L453.55,107.71 L454.30,107.70 L455.05,107.69 L455.80,107.67 L456.55,107.66 L457.30,107.65 L458.05,107.64 L458.80,107.62 L459.55,107.61 L460.30,107.60 L461.04,107.59 L461.79,107.58 L462.54,107.57 L463.29,107.56 L464.04,107.55 L464.79,107.54 L465.54,107.53 L466.29,107.53 L467.04,107.52 L467.79,107.51 L468.54,107.51 L469.29,107.50 L470.00,107.50 L470.04,107.50 L470.79,107.50 L471.54,107.49 L472.29,107.49 L473.04,107.49 L473.79,107.48 L474.54,107.48 L475.29,107.47 L476.04,107.47 L476.79,107.47 L477.54,107.46 L478.29,107.46 L479.04,107.46 L479.79,107.45 L480.54,107.45 L481.29,107.45 L482.04,107.44 L482.78,107.44 L483.53,107.44 L484.28,107.43 L485.03,107.43 L485.78,107.42 L486.53,107.42 L487.28,107.42 L488.03,107.41 L488.78,107.41 L489.53,107.41 L490.28,107.40 L491.03,107.40 L491.78,107.40 L492.53,107.39 L493.28,107.39 L494.03,107.39 L494.78,107.38 L495.53,107.38 L496.28,107.38 L497.03,107.37 L497.78,107.37 L498.53,107.37 L499.28,107.37 L500.03,107.36 L500.78,107.36 L501.53,107.36 L502.28,107.35 L503.03,107.35 L503.78,107.35 L504.52,107.34 L505.27,107.34 L506.02,107.34 L506.77,107.33 L507.52,107.33 L508.27,107.33 L509.02,107.33 L509.77,107.32 L510.52,107.32 L511.27,107.32 L512.02,107.31 L512.77,107.31 L513.52,107.31 L514.27,107.30 L515.02,107.30 L515.77,107.30 L516.52,107.30 L517.27,107.29 L518.02,107.29 L518.77,107.29 L519.52,107.28 L520.27,107.28 L521.02,107.28 L521.77,107.28 L522.52,107.27 L523.27,107.27 L524.02,107.27 L524.77,107.26 L525.52,107.26 L526.26,107.26 L527.01,107.26 L527.76,107.25 L528.51,107.25 L529.26,107.25 L530.01,107.25 L530.76,107.24 L531.51,107.24 L532.26,107.24 L533.01,107.24 L533.76,107.23 L534.51,107.23 L535.26,107.23 L536.01,107.23 L536.76,107.22 L537.51,107.22 L538.26,107.22 L539.01,107.22 L539.76,107.21 L540.51,107.21 L541.26,107.21 L542.01,107.21 L542.76,107.20 L543.51,107.20 L544.26,107.20 L545.01,107.20 L545.76,107.19 L546.51,107.19 L547.26,107.19 L548.00,107.19 L548.75,107.18 L549.50,107.18 L550.25,107.18 L551.00,107.18 L551.75,107.18 L552.50,107.17 L553.25,107.17 L554.00,107.17 L554.75,107.17 L555.50,107.16 L556.25,107.16 L557.00,107.16 L557.75,107.16 L558.50,107.16 L559.25,107.15 L560.00,107.15 L560.75,107.15 L561.50,107.15 L562.25,107.15 L563.00,107.14 L563.75,107.14 L564.50,107.14 L565.25,107.14 L566.00,107.14 L566.75,107.13 L567.50,107.13 L568.25,107.13 L569.00,107.13 L569.74,107.13 L570.49,107.12 L571.24,107.12 L571.99,107.12 L572.74,107.12 L573.49,107.12 L574.24,107.11 L574.99,107.11 L575.74,107.11 L576.49,107.11 L577.24,107.11 L577.99,107.11 L578.74,107.10 L579.49,107.10 L580.24,107.10 L580.99,107.10 L581.74,107.10 L582.49,107.10 L583.24,107.09 L583.99,107.09 L584.74,107.09 L585.49,107.09 L586.24,107.09 L586.99,107.09 L587.74,107.08 L588.49,107.08 L589.24,107.08 L589.99,107.08 L590.74,107.08 L591.48,107.08 L592.23,107.07 L592.98,107.07 L593.73,107.07 L594.48,107.07 L595.23,107.07 L595.98,107.07 L596.73,107.07 L597.48,107.06 L598.23,107.06 L598.98,107.06 L599.73,107.06 L600.48,107.06 L601.23,107.06 L601.98,107.06 L602.73,107.06 L603.48,107.05 L604.23,107.05 L604.98,107.05 L605.73,107.05 L606.48,107.05 L607.23,107.05 L607.98,107.05 L608.73,107.05 L609.48,107.04 L610.23,107.04 L610.98,107.04 L611.73,107.04 L612.48,107.04 L613.22,107.04 L613.97,107.04 L614.72,107.04 L615.47,107.04 L616.22,107.03 L616.97,107.03 L617.72,107.03 L618.47,107.03 L619.22,107.03 L619.97,107.03 L620.72,107.03 L621.47,107.03 L622.22,107.03 L622.97,107.03 L623.72,107.03 L624.47,107.02 L625.22,107.02 L625.97,107.02 L626.72,107.02 L627.47,107.02 L628.22,107.02 L628.97,107.02 L629.72,107.02 L630.47,107.02 L631.22,107.02 L631.97,107.02 L632.72,107.02 L633.47,107.02 L634.22,107.01 L634.96,107.01 L635.71,107.01 L636.46,107.01 L637.21,107.01 L637.96,107.01 L638.71,107.01 L639.46,107.01 L640.21,107.01 L640.96,107.01 L641.71,107.01 L642.46,107.01 L643.21,107.01 L643.96,107.01 L644.71,107.01 L645.46,107.01 L646.21,107.01 L646.96,107.01 L647.71,107.01 L648.46,107.00 L649.21,107.00 L649.96,107.00 L650.71,107.00 L651.46,107.00 L652.21,107.00 L652.96,107.00 L653.71,107.00 L654.46,107.00 L655.21,107.00 L655.96,107.00 L656.70,107.00 L657.45,107.00 L658.20,107.00 L658.95,107.00 L659.70,107.00 L660.45,107.00 L661.20,107.00 L661.95,107.00 L662.70,107.00 L663.45,107.00 L664.20,107.00 L664.95,107.00 L665.70,107.00 L666.45,107.00 L667.20,107.00" fill="none" stroke="#0022ff" stroke-width="2.5" stroke-dasharray="2.2 2.28"/>
<path d="M123.70,92.80 L124.45,92.80 L125.20,92.80 L125.95,92.80 L126.70,92.80 L127.45,92.80 L128.20,92.80 L128.95,92.80 L129.70,92.80 L130.45,92.80 L131.20,92.80 L131.95,92.81 L132.70,92.81 L133.45,92.81 L134.20,92.81 L134.94,92.81 L135.69,92.81 L136.44,92.82 L137.19,92.82 L137.94,92.82 L138.69,92.82 L139.44,92.82 L140.19,92.83 L140.94,92.83 L141.69,92.83 L142.44,92.84 L143.19,92.84 L143.94,92.84 L144.69,92.85 L145.44,92.85 L146.19,92.85 L146.94,92.86 L147.69,92.86 L148.44,92.87 L149.19,92.87 L149.94,92.88 L150.69,92.88 L151.44,92.89 L152.19,92.89 L152.94,92.90 L153.69,92.91 L154.44,92.91 L155.19,92.92 L155.94,92.92 L156.68,92.93 L157.43,92.94 L158.18,92.95 L158.93,92.95 L159.68,92.96 L160.43,92.97 L161.18,92.98 L161.93,92.99 L162.68,93.00 L163.00,93.00 L163.43,93.01 L164.18,93.04 L164.93,93.10 L165.68,93.18 L166.43,93.27 L167.18,93.38 L167.93,93.50 L168.68,93.64 L169.43,93.78 L170.18,93.93 L170.93,94.08 L171.68,94.23 L172.00,94.30 L172.43,94.39 L173.18,94.58 L173.93,94.78 L174.68,95.01 L175.43,95.27 L176.18,95.54 L176.93,95.83 L177.68,96.14 L178.42,96.47 L178.50,96.50 L179.17,96.82 L179.92,97.23 L180.67,97.68 L181.42,98.17 L182.17,98.68 L182.92,99.22 L183.67,99.76 L184.00,100.00 L184.42,100.35 L185.17,101.10 L185.92,101.95 L186.67,102.77 L187.42,103.46 L188.17,103.90 L188.70,104.00 L188.92,103.96 L189.67,103.58 L190.00,103.50 L190.42,103.58 L191.17,104.05 L191.92,104.79 L192.67,105.66 L193.42,106.47 L194.17,107.08 L194.20,107.10 L194.92,107.52 L195.67,107.96 L196.42,108.38 L197.17,108.77 L197.92,109.09 L198.67,109.33 L199.42,109.47 L199.90,109.50 L200.16,109.49 L200.91,109.33 L201.66,109.03 L202.41,108.64 L203.16,108.20 L203.91,107.77 L204.66,107.40 L205.41,107.12 L205.50,107.10 L206.16,106.93 L206.91,106.75 L207.66,106.57 L208.41,106.41 L209.16,106.28 L209.91,106.17 L210.66,106.11 L211.20,106.10 L211.41,106.11 L212.16,106.27 L212.91,106.59 L213.66,107.03 L214.41,107.55 L215.16,108.11 L215.91,108.64 L216.66,109.12 L216.80,109.20 L217.41,109.56 L218.16,110.07 L218.91,110.61 L219.66,111.15 L220.41,111.66 L221.16,112.10 L221.90,112.44 L222.65,112.65 L223.20,112.70 L223.40,112.69 L224.15,112.57 L224.90,112.30 L225.65,111.92 L226.40,111.45 L227.15,110.93 L227.90,110.37 L228.65,109.81 L229.40,109.27 L229.50,109.20 L230.15,108.71 L230.90,108.06 L231.65,107.35 L232.40,106.62 L233.15,105.89 L233.90,105.20 L234.65,104.58 L235.20,104.20 L235.40,104.07 L236.15,103.60 L236.90,103.13 L237.65,102.70 L238.40,102.29 L239.15,101.94 L239.90,101.65 L240.65,101.43 L240.80,101.40 L241.40,101.28 L242.15,101.13 L242.90,100.99 L243.64,100.86 L244.39,100.74 L245.14,100.64 L245.89,100.55 L246.64,100.48 L247.39,100.43 L248.14,100.40 L248.60,100.40 L248.89,100.41 L249.64,100.47 L250.39,100.59 L251.14,100.76 L251.89,100.97 L252.64,101.22 L253.39,101.49 L254.14,101.77 L254.89,102.06 L255.00,102.10 L255.64,102.38 L256.39,102.77 L257.14,103.24 L257.89,103.75 L258.64,104.28 L259.39,104.83 L260.14,105.38 L260.60,105.70 L260.89,105.90 L261.64,106.46 L262.39,107.05 L263.14,107.65 L263.89,108.25 L264.64,108.82 L265.38,109.35 L266.13,109.81 L266.30,109.90 L266.88,110.22 L267.63,110.62 L268.38,111.01 L269.13,111.37 L269.88,111.69 L270.63,111.97 L271.38,112.19 L271.90,112.30 L272.13,112.34 L272.88,112.47 L273.63,112.60 L274.38,112.72 L275.13,112.82 L275.88,112.91 L276.63,112.99 L277.38,113.05 L278.13,113.08 L278.88,113.10 L279.00,113.10 L279.63,113.10 L280.38,113.09 L281.13,113.07 L281.88,113.05 L282.63,113.03 L283.38,113.00 L284.13,112.97 L284.88,112.94 L285.63,112.90 L286.38,112.86 L287.12,112.83 L287.87,112.79 L288.62,112.76 L289.37,112.72 L290.00,112.70 L290.12,112.70 L290.87,112.67 L291.62,112.64 L292.37,112.61 L293.12,112.58 L293.87,112.56 L294.62,112.53 L295.37,112.50 L296.12,112.47 L296.87,112.44 L297.62,112.41 L298.37,112.38 L299.12,112.34 L299.87,112.31 L300.00,112.30 L300.62,112.27 L301.37,112.23 L302.12,112.19 L302.87,112.15 L303.62,112.11 L304.37,112.06 L305.12,112.01 L305.87,111.96 L306.62,111.90 L307.37,111.84 L307.80,111.80 L308.12,111.77 L308.86,111.68 L309.61,111.58 L310.36,111.47 L311.11,111.34 L311.86,111.21 L312.61,111.08 L313.36,110.94 L314.11,110.81 L314.86,110.68 L315.61,110.56 L316.00,110.50 L316.36,110.45 L317.11,110.32 L317.86,110.20 L318.61,110.06 L319.36,109.93 L320.11,109.79 L320.86,109.66 L321.61,109.55 L322.36,109.44 L323.11,109.35 L323.86,109.28 L324.61,109.23 L325.36,109.20 L325.60,109.20 L326.11,109.22 L326.86,109.30 L327.61,109.45 L328.36,109.64 L329.11,109.86 L329.86,110.11 L330.60,110.37 L331.00,110.50 L331.35,110.63 L332.10,110.98 L332.85,111.41 L333.60,111.89 L334.35,112.40 L335.10,112.90 L335.85,113.38 L336.60,113.81 L337.00,114.00 L337.35,114.16 L338.10,114.53 L338.85,114.91 L339.60,115.29 L340.35,115.63 L341.10,115.94 L341.85,116.18 L342.60,116.34 L343.35,116.40 L343.40,116.40 L344.10,116.38 L344.85,116.32 L345.60,116.21 L346.35,116.08 L347.10,115.93 L347.85,115.76 L348.60,115.58 L349.35,115.39 L350.10,115.21 L350.85,115.03 L351.00,115.00 L351.60,114.86 L352.34,114.64 L353.09,114.39 L353.84,114.13 L354.59,113.86 L355.34,113.61 L356.09,113.39 L356.84,113.20 L357.59,113.07 L358.34,113.00 L358.60,113.00 L359.09,113.01 L359.84,113.09 L360.59,113.21 L361.34,113.38 L362.09,113.58 L362.84,113.80 L363.59,114.04 L364.34,114.28 L365.09,114.51 L365.84,114.72 L366.59,114.91 L367.00,115.00 L367.34,115.07 L368.09,115.23 L368.84,115.40 L369.59,115.57 L370.34,115.74 L371.09,115.90 L371.84,116.05 L372.59,116.18 L373.34,116.28 L374.08,116.36 L374.83,116.39 L375.20,116.40 L375.58,116.39 L376.33,116.35 L377.08,116.26 L377.83,116.15 L378.58,116.01 L379.33,115.84 L380.08,115.67 L380.83,115.49 L381.58,115.31 L382.33,115.14 L383.00,115.00 L383.08,114.98 L383.83,114.81 L384.58,114.61 L385.33,114.40 L386.08,114.17 L386.83,113.94 L387.58,113.71 L388.33,113.51 L389.08,113.32 L389.83,113.17 L390.58,113.07 L391.33,113.01 L391.70,113.00 L392.08,113.01 L392.83,113.05 L393.58,113.14 L394.33,113.26 L395.08,113.40 L395.82,113.56 L396.57,113.74 L397.32,113.92 L398.07,114.10 L398.82,114.27 L399.57,114.42 L400.00,114.50 L400.32,114.56 L401.07,114.70 L401.82,114.84 L402.57,114.99 L403.32,115.14 L404.07,115.29 L404.82,115.43 L405.57,115.57 L406.32,115.70 L407.07,115.82 L407.82,115.93 L408.57,116.01 L409.32,116.09 L409.50,116.10 L410.07,116.14 L410.82,116.19 L411.57,116.24 L412.32,116.29 L413.07,116.34 L413.82,116.38 L414.57,116.42 L415.32,116.46 L416.07,116.49 L416.82,116.53 L417.56,116.56 L418.31,116.59 L419.06,116.62 L419.81,116.65 L420.56,116.67 L421.31,116.70 L422.06,116.72 L422.81,116.74 L423.56,116.76 L424.31,116.78 L425.00,116.80 L425.06,116.80 L425.81,116.82 L426.56,116.84 L427.31,116.86 L428.06,116.88 L428.81,116.89 L429.56,116.91 L430.31,116.93 L431.06,116.95 L431.81,116.96 L432.56,116.98 L433.31,117.00 L434.06,117.01 L434.81,117.02 L435.56,117.04 L436.31,117.05 L437.06,117.06 L437.81,117.07 L438.56,117.08 L439.30,117.08 L440.05,117.09 L440.80,117.10 L441.55,117.10 L442.30,117.10 L442.60,117.10 L443.05,117.10 L443.80,117.10 L444.55,117.10 L445.30,117.10 L446.05,117.10 L446.80,117.10 L447.55,117.10 L448.30,117.10 L449.05,117.10 L449.80,117.10 L450.55,117.10 L451.30,117.10 L452.05,117.10 L452.80,117.10 L453.55,117.10 L454.30,117.10 L455.05,117.10 L455.80,117.10 L456.55,117.10 L457.30,117.10 L458.05,117.10 L458.80,117.10 L459.55,117.10 L460.30,117.10 L461.04,117.10 L461.79,117.10 L462.54,117.10 L463.29,117.10 L464.04,117.10 L464.79,117.10 L465.54,117.10 L466.29,117.10 L467.04,117.10 L467.79,117.10 L468.54,117.10 L469.29,117.10 L470.00,117.10 L470.04,117.10 L470.79,117.10 L471.54,117.10 L472.29,117.10 L473.04,117.10 L473.79,117.11 L474.54,117.11 L475.29,117.11 L476.04,117.11 L476.79,117.12 L477.54,117.12 L478.29,117.13 L479.04,117.13 L479.79,117.14 L480.54,117.14 L481.29,117.15 L482.04,117.15 L482.78,117.16 L483.53,117.17 L484.28,117.18 L485.03,117.18 L485.78,117.19 L486.53,117.20 L487.28,117.21 L488.03,117.22 L488.78,117.23 L489.53,117.24 L490.28,117.25 L491.03,117.26 L491.78,117.27 L492.53,117.28 L493.28,117.29 L494.03,117.30 L494.78,117.31 L495.53,117.32 L496.28,117.33 L497.03,117.35 L497.78,117.36 L498.53,117.37 L499.28,117.38 L500.03,117.40 L500.78,117.41 L501.53,117.42 L502.28,117.44 L503.03,117.45 L503.78,117.46 L504.52,117.48 L505.27,117.49 L506.02,117.51 L506.77,117.52 L507.52,117.53 L508.27,117.55 L509.02,117.56 L509.77,117.58 L510.52,117.59 L511.27,117.61 L512.02,117.62 L512.77,117.64 L513.52,117.65 L514.27,117.67 L515.02,117.69 L515.77,117.70 L516.52,117.72 L517.27,117.73 L518.02,117.75 L518.77,117.76 L519.52,117.78 L520.27,117.80 L521.02,117.81 L521.77,117.83 L522.52,117.84 L523.27,117.86 L524.02,117.88 L524.77,117.89 L525.52,117.91 L526.26,117.92 L527.01,117.94 L527.76,117.95 L528.51,117.97 L529.26,117.99 L530.01,118.00 L530.76,118.02 L531.51,118.03 L532.26,118.05 L533.01,118.06 L533.76,118.08 L534.51,118.09 L535.26,118.11 L536.01,118.12 L536.76,118.14 L537.51,118.15 L538.26,118.17 L539.01,118.18 L539.76,118.20 L540.51,118.21 L541.26,118.22 L542.01,118.24 L542.76,118.25 L543.51,118.26 L544.26,118.28 L545.01,118.29 L545.76,118.30 L546.51,118.32 L547.26,118.33 L548.00,118.34 L548.75,118.35 L549.50,118.36 L550.25,118.38 L551.00,118.39 L551.75,118.40 L552.50,118.41 L553.25,118.42 L554.00,118.43 L554.75,118.44 L555.50,118.45 L556.25,118.46 L557.00,118.47 L557.75,118.48 L558.50,118.48 L559.25,118.49 L560.00,118.50 L560.00,118.50 L560.75,118.51 L561.50,118.52 L562.25,118.52 L563.00,118.53 L563.75,118.54 L564.50,118.55 L565.25,118.55 L566.00,118.56 L566.75,118.57 L567.50,118.58 L568.25,118.58 L569.00,118.59 L569.74,118.60 L570.49,118.61 L571.24,118.61 L571.99,118.62 L572.74,118.63 L573.49,118.64 L574.24,118.64 L574.99,118.65 L575.74,118.66 L576.49,118.66 L577.24,118.67 L577.99,118.68 L578.74,118.69 L579.49,118.69 L580.24,118.70 L580.99,118.71 L581.74,118.72 L582.49,118.72 L583.24,118.73 L583.99,118.74 L584.74,118.74 L585.49,118.75 L586.24,118.76 L586.99,118.76 L587.74,118.77 L588.49,118.78 L589.24,118.79 L589.99,118.79 L590.74,118.80 L591.48,118.81 L592.23,118.81 L592.98,118.82 L593.73,118.83 L594.48,118.83 L595.23,118.84 L595.98,118.85 L596.73,118.85 L597.48,118.86 L598.23,118.87 L598.98,118.87 L599.73,118.88 L600.48,118.89 L601.23,118.89 L601.98,118.90 L602.73,118.91 L603.48,118.91 L604.23,118.92 L604.98,118.93 L605.73,118.93 L606.48,118.94 L607.23,118.94 L607.98,118.95 L608.73,118.96 L609.48,118.96 L610.23,118.97 L610.98,118.97 L611.73,118.98 L612.48,118.99 L613.22,118.99 L613.97,119.00 L614.72,119.00 L615.47,119.01 L616.22,119.02 L616.97,119.02 L617.72,119.03 L618.47,119.03 L619.22,119.04 L619.97,119.04 L620.72,119.05 L621.47,119.06 L622.22,119.06 L622.97,119.07 L623.72,119.07 L624.47,119.08 L625.22,119.08 L625.97,119.09 L626.72,119.09 L627.47,119.10 L628.22,119.10 L628.97,119.11 L629.72,119.11 L630.47,119.12 L631.22,119.12 L631.97,119.13 L632.72,119.13 L633.47,119.14 L634.22,119.14 L634.96,119.15 L635.71,119.15 L636.46,119.16 L637.21,119.16 L637.96,119.17 L638.71,119.17 L639.46,119.17 L640.21,119.18 L640.96,119.18 L641.71,119.19 L642.46,119.19 L643.21,119.20 L643.96,119.20 L644.71,119.20 L645.46,119.21 L646.21,119.21 L646.96,119.22 L647.71,119.22 L648.46,119.22 L649.21,119.23 L649.96,119.23 L650.71,119.23 L651.46,119.24 L652.21,119.24 L652.96,119.25 L653.71,119.25 L654.46,119.25 L655.21,119.26 L655.96,119.26 L656.70,119.26 L657.45,119.26 L658.20,119.27 L658.95,119.27 L659.70,119.27 L660.45,119.28 L661.20,119.28 L661.95,119.28 L662.70,119.29 L663.45,119.29 L664.20,119.29 L664.95,119.29 L665.70,119.30 L666.45,119.30 L667.20,119.30" fill="none" stroke="#ff30ff" stroke-width="2.5" stroke-dasharray="1.1 1.1"/>
<path d="M123.70,247.50 L124.45,247.08 L125.10,246.70 L125.20,246.64 L125.95,246.18 L126.70,245.72 L127.45,245.25 L128.20,244.77 L128.95,244.28 L129.70,243.78 L130.45,243.29 L131.20,242.78 L131.95,242.28 L132.70,241.77 L133.45,241.26 L134.20,240.75 L134.70,240.40 L134.94,240.23 L135.69,239.72 L136.44,239.20 L137.19,238.67 L137.94,238.14 L138.69,237.61 L139.44,237.07 L140.19,236.53 L140.94,235.98 L141.69,235.43 L142.00,235.20 L142.44,234.87 L143.19,234.30 L143.94,233.72 L144.69,233.14 L145.44,232.55 L146.19,231.96 L146.94,231.36 L147.69,230.76 L148.44,230.17 L149.19,229.57 L149.40,229.40 L149.94,228.97 L150.69,228.37 L151.44,227.76 L152.19,227.16 L152.94,226.55 L153.69,225.94 L154.44,225.33 L155.19,224.72 L155.94,224.12 L156.68,223.51 L156.70,223.50 L157.43,222.92 L158.18,222.33 L158.93,221.76 L159.68,221.18 L160.43,220.60 L161.18,220.02 L161.93,219.42 L162.68,218.81 L163.43,218.18 L164.10,217.60 L164.18,217.53 L164.93,216.85 L165.68,216.15 L166.43,215.43 L167.18,214.69 L167.93,213.94 L168.68,213.17 L169.43,212.39 L170.18,211.60 L170.93,210.80 L171.40,210.30 L171.68,210.00 L172.43,209.19 L173.18,208.36 L173.93,207.52 L174.68,206.67 L175.43,205.81 L176.18,204.93 L176.93,204.04 L177.68,203.13 L178.42,202.22 L178.60,202.00 L179.17,201.28 L179.92,200.34 L180.67,199.37 L181.42,198.39 L182.17,197.39 L182.92,196.38 L183.67,195.34 L184.42,194.28 L184.90,193.60 L185.17,193.20 L185.92,192.05 L186.67,190.85 L187.42,189.60 L188.17,188.35 L188.92,187.11 L189.67,185.91 L190.42,184.76 L191.17,183.71 L191.40,183.40 L191.92,182.73 L192.67,181.78 L193.42,180.85 L194.17,179.96 L194.92,179.11 L195.67,178.30 L196.42,177.54 L197.17,176.84 L197.80,176.30 L197.92,176.21 L198.67,175.61 L199.42,175.03 L200.16,174.48 L200.91,173.96 L201.66,173.47 L202.41,173.02 L203.16,172.62 L203.91,172.26 L204.30,172.10 L204.66,171.95 L205.41,171.65 L206.16,171.37 L206.91,171.10 L207.66,170.85 L208.41,170.63 L209.16,170.45 L209.91,170.30 L210.66,170.20 L210.70,170.20 L211.41,170.13 L212.16,170.07 L212.91,170.01 L213.66,169.96 L214.41,169.93 L215.16,169.91 L215.80,169.90 L215.91,169.90 L216.66,169.94 L217.41,170.02 L218.16,170.15 L218.91,170.31 L219.66,170.50 L220.41,170.70 L221.16,170.92 L221.90,171.15 L222.65,171.37 L223.40,171.57 L223.50,171.60 L224.15,171.78 L224.90,171.99 L225.65,172.22 L226.40,172.46 L227.15,172.71 L227.90,172.97 L228.65,173.24 L229.40,173.51 L229.90,173.70 L230.15,173.80 L230.90,174.12 L231.65,174.46 L232.40,174.83 L233.15,175.20 L233.90,175.57 L234.65,175.92 L235.40,176.25 L236.15,176.55 L236.30,176.60 L236.90,176.82 L237.65,177.10 L238.40,177.38 L239.15,177.66 L239.90,177.93 L240.65,178.16 L241.40,178.35 L242.15,178.50 L242.90,178.58 L243.40,178.60 L243.64,178.59 L244.39,178.49 L245.14,178.27 L245.89,177.98 L246.64,177.63 L247.39,177.24 L248.14,176.84 L248.89,176.45 L249.20,176.30 L249.64,176.08 L250.39,175.68 L251.14,175.24 L251.89,174.78 L252.64,174.30 L253.39,173.82 L254.14,173.35 L254.89,172.90 L255.60,172.50 L255.64,172.48 L256.39,172.07 L257.14,171.66 L257.89,171.25 L258.64,170.86 L259.39,170.47 L260.14,170.11 L260.89,169.76 L261.64,169.44 L262.00,169.30 L262.39,169.15 L263.14,168.86 L263.89,168.57 L264.64,168.29 L265.38,168.03 L266.13,167.79 L266.88,167.59 L267.63,167.42 L268.38,167.30 L268.40,167.30 L269.13,167.21 L269.88,167.13 L270.63,167.05 L271.38,166.98 L272.13,166.91 L272.88,166.86 L273.63,166.83 L274.38,166.81 L275.00,166.80 L275.13,166.80 L275.88,166.85 L276.63,166.93 L277.38,167.03 L278.00,167.10 L278.13,167.11 L278.88,167.18 L279.63,167.25 L280.38,167.33 L281.13,167.40 L281.88,167.48 L282.63,167.55 L283.38,167.62 L284.13,167.69 L284.88,167.76 L285.63,167.82 L286.38,167.87 L287.12,167.92 L287.87,167.95 L288.62,167.98 L289.37,168.00 L290.00,168.00 L290.12,168.00 L290.87,168.00 L291.62,167.99 L292.37,167.98 L293.12,167.97 L293.87,167.96 L294.62,167.94 L295.37,167.93 L296.12,167.91 L296.87,167.89 L297.62,167.87 L298.37,167.85 L299.12,167.83 L299.87,167.80 L300.00,167.80 L300.62,167.78 L301.37,167.76 L302.12,167.74 L302.87,167.71 L303.62,167.68 L304.37,167.65 L305.12,167.62 L305.87,167.58 L306.62,167.54 L307.37,167.49 L308.12,167.45 L308.86,167.39 L309.61,167.33 L310.00,167.30 L310.36,167.26 L311.11,167.14 L311.86,166.98 L312.61,166.77 L313.36,166.53 L314.11,166.26 L314.86,165.98 L315.61,165.68 L316.36,165.39 L317.11,165.09 L317.86,164.81 L318.61,164.55 L319.36,164.32 L320.11,164.12 L320.20,164.10 L320.86,163.95 L321.61,163.78 L322.36,163.62 L323.11,163.47 L323.86,163.32 L324.61,163.20 L325.36,163.08 L326.00,163.00 L326.11,162.99 L326.86,162.90 L327.61,162.81 L328.36,162.72 L329.11,162.64 L329.86,162.58 L330.60,162.53 L331.35,162.50 L331.80,162.50 L332.10,162.50 L332.85,162.50 L333.60,162.50 L334.35,162.51 L335.10,162.51 L335.85,162.52 L336.60,162.52 L337.35,162.53 L338.10,162.54 L338.85,162.54 L339.60,162.55 L340.35,162.56 L341.10,162.57 L341.85,162.57 L342.60,162.58 L343.35,162.59 L344.10,162.59 L344.85,162.60 L345.00,162.60 L345.60,162.60 L346.35,162.61 L347.10,162.62 L347.85,162.62 L348.60,162.63 L349.35,162.63 L350.10,162.64 L350.85,162.65 L351.60,162.65 L352.34,162.66 L353.09,162.66 L353.84,162.67 L354.59,162.67 L355.34,162.68 L356.09,162.68 L356.84,162.69 L357.59,162.69 L358.34,162.69 L359.09,162.70 L359.84,162.70 L360.59,162.70 L361.20,162.70 L361.34,162.70 L362.09,162.70 L362.84,162.68 L363.59,162.67 L364.34,162.64 L365.09,162.61 L365.84,162.58 L366.59,162.54 L367.34,162.50 L368.09,162.46 L368.84,162.41 L369.59,162.36 L370.34,162.31 L371.09,162.26 L371.84,162.21 L372.59,162.16 L373.34,162.11 L374.08,162.06 L374.83,162.01 L375.00,162.00 L375.58,161.96 L376.33,161.90 L377.08,161.84 L377.83,161.77 L378.58,161.70 L379.33,161.62 L380.08,161.54 L380.83,161.45 L381.58,161.37 L382.33,161.28 L383.08,161.20 L383.83,161.12 L384.58,161.04 L385.33,160.96 L386.08,160.89 L386.83,160.82 L387.58,160.77 L388.33,160.71 L389.08,160.67 L389.83,160.64 L390.58,160.61 L391.33,160.60 L391.70,160.60 L392.08,160.60 L392.83,160.60 L393.58,160.61 L394.33,160.62 L395.08,160.63 L395.82,160.64 L396.57,160.66 L397.32,160.67 L398.07,160.69 L398.82,160.71 L399.57,160.72 L400.32,160.74 L401.07,160.76 L401.82,160.78 L402.57,160.80 L403.32,160.82 L404.07,160.83 L404.82,160.85 L405.57,160.86 L406.32,160.87 L407.07,160.88 L407.82,160.89 L408.57,160.90 L409.32,160.90 L409.50,160.90 L410.07,160.89 L410.82,160.87 L411.57,160.83 L412.32,160.77 L413.07,160.70 L413.82,160.61 L414.57,160.52 L415.32,160.42 L416.07,160.32 L416.82,160.22 L417.56,160.11 L418.31,160.01 L419.06,159.91 L419.81,159.82 L420.00,159.80 L420.56,159.73 L421.31,159.64 L422.06,159.53 L422.81,159.42 L423.56,159.30 L424.31,159.18 L425.06,159.06 L425.81,158.94 L426.56,158.82 L427.31,158.71 L428.06,158.61 L428.81,158.52 L429.56,158.44 L430.31,158.38 L431.06,158.33 L431.81,158.31 L432.40,158.30 L432.56,158.30 L433.31,158.30 L434.06,158.31 L434.81,158.33 L435.56,158.35 L436.31,158.37 L437.06,158.39 L437.81,158.42 L438.56,158.45 L439.30,158.48 L440.05,158.51 L440.80,158.55 L441.55,158.58 L442.00,158.60 L442.30,158.61 L443.05,158.65 L443.80,158.70 L444.55,158.75 L445.30,158.81 L446.05,158.87 L446.80,158.94 L447.55,159.00 L448.30,159.07 L449.05,159.13 L449.80,159.20 L450.55,159.26 L451.30,159.31 L452.05,159.36 L452.70,159.40 L452.80,159.41 L453.55,159.45 L454.30,159.49 L455.05,159.53 L455.80,159.57 L456.55,159.61 L457.30,159.66 L458.05,159.70 L458.80,159.74 L459.55,159.78 L460.30,159.81 L461.04,159.85 L461.79,159.89 L462.54,159.92 L463.29,159.95 L464.04,159.98 L464.79,160.01 L465.54,160.03 L466.29,160.05 L467.04,160.07 L467.79,160.08 L468.54,160.09 L469.29,160.10 L470.00,160.10 L470.04,160.10 L470.79,160.10 L471.54,160.09 L472.29,160.08 L473.04,160.06 L473.79,160.04 L474.54,160.02 L475.29,159.99 L476.04,159.96 L476.79,159.92 L477.54,159.88 L478.29,159.84 L479.04,159.79 L479.79,159.74 L480.54,159.69 L481.29,159.64 L482.04,159.58 L482.78,159.53 L483.53,159.47 L484.28,159.40 L485.03,159.34 L485.78,159.28 L486.53,159.21 L487.28,159.14 L488.03,159.08 L488.78,159.01 L489.53,158.94 L490.28,158.87 L491.03,158.80 L491.78,158.73 L492.53,158.66 L493.28,158.59 L494.03,158.52 L494.78,158.45 L495.53,158.38 L496.28,158.31 L497.03,158.25 L497.78,158.18 L498.53,158.12 L499.28,158.06 L500.00,158.00 L500.03,158.00 L500.78,157.94 L501.53,157.87 L502.28,157.81 L503.03,157.74 L503.78,157.67 L504.52,157.60 L505.27,157.52 L506.02,157.45 L506.77,157.37 L507.52,157.29 L508.27,157.21 L509.02,157.13 L509.77,157.05 L510.52,156.96 L511.27,156.88 L512.02,156.79 L512.77,156.71 L513.52,156.62 L514.27,156.54 L515.02,156.45 L515.77,156.37 L516.52,156.28 L517.27,156.20 L518.02,156.11 L518.77,156.03 L519.52,155.94 L520.27,155.86 L521.02,155.78 L521.77,155.70 L522.52,155.62 L523.27,155.55 L524.02,155.47 L524.77,155.40 L525.52,155.33 L526.26,155.26 L527.01,155.20 L527.76,155.13 L528.51,155.07 L529.26,155.01 L530.01,154.96 L530.76,154.91 L531.51,154.86 L532.26,154.81 L533.01,154.77 L533.76,154.73 L534.51,154.70 L535.26,154.67 L536.01,154.64 L536.76,154.62 L537.51,154.60 L537.70,154.60 L538.26,154.59 L539.01,154.58 L539.76,154.56 L540.51,154.55 L541.26,154.54 L542.01,154.52 L542.76,154.51 L543.51,154.50 L544.26,154.49 L545.01,154.48 L545.76,154.47 L546.51,154.45 L547.26,154.44 L548.00,154.43 L548.75,154.42 L549.50,154.41 L550.25,154.40 L551.00,154.39 L551.75,154.38 L552.50,154.37 L553.25,154.36 L554.00,154.36 L554.75,154.35 L555.50,154.34 L556.25,154.33 L557.00,154.32 L557.75,154.31 L558.50,154.31 L559.25,154.30 L560.00,154.29 L560.75,154.28 L561.50,154.28 L562.25,154.27 L563.00,154.26 L563.75,154.26 L564.50,154.25 L565.25,154.24 L566.00,154.24 L566.75,154.23 L567.50,154.22 L568.25,154.22 L569.00,154.21 L569.74,154.21 L570.49,154.20 L571.24,154.19 L571.99,154.19 L572.74,154.18 L573.49,154.18 L574.24,154.17 L574.99,154.17 L575.74,154.16 L576.49,154.16 L577.24,154.15 L577.99,154.15 L578.74,154.14 L579.49,154.14 L580.24,154.13 L580.99,154.13 L581.74,154.12 L582.49,154.12 L583.24,154.11 L583.99,154.11 L584.74,154.10 L585.49,154.10 L586.24,154.09 L586.99,154.09 L587.74,154.08 L588.49,154.08 L589.24,154.07 L589.99,154.07 L590.74,154.06 L591.48,154.06 L592.23,154.05 L592.98,154.05 L593.73,154.04 L594.48,154.04 L595.23,154.03 L595.98,154.03 L596.73,154.02 L597.48,154.02 L598.23,154.01 L598.98,154.01 L599.73,154.00 L600.00,154.00 L600.48,154.00 L601.23,153.99 L601.98,153.99 L602.73,153.98 L603.48,153.97 L604.23,153.97 L604.98,153.96 L605.73,153.96 L606.48,153.95 L607.23,153.95 L607.98,153.94 L608.73,153.94 L609.48,153.93 L610.23,153.93 L610.98,153.92 L611.73,153.92 L612.48,153.91 L613.22,153.91 L613.97,153.90 L614.72,153.89 L615.47,153.89 L616.22,153.88 L616.97,153.88 L617.72,153.87 L618.47,153.87 L619.22,153.86 L619.97,153.86 L620.72,153.85 L621.47,153.85 L622.22,153.84 L622.97,153.84 L623.72,153.83 L624.47,153.83 L625.22,153.82 L625.97,153.82 L626.72,153.81 L627.47,153.81 L628.22,153.81 L628.97,153.80 L629.72,153.80 L630.47,153.79 L631.22,153.79 L631.97,153.78 L632.72,153.78 L633.47,153.77 L634.22,153.77 L634.96,153.76 L635.71,153.76 L636.46,153.75 L637.21,153.75 L637.96,153.75 L638.71,153.74 L639.46,153.74 L640.21,153.73 L640.96,153.73 L641.71,153.72 L642.46,153.72 L643.21,153.72 L643.96,153.71 L644.71,153.71 L645.46,153.70 L646.21,153.70 L646.96,153.70 L647.71,153.69 L648.46,153.69 L649.21,153.68 L649.96,153.68 L650.71,153.68 L651.46,153.67 L652.21,153.67 L652.96,153.66 L653.71,153.66 L654.46,153.66 L655.21,153.65 L655.96,153.65 L656.70,153.65 L657.45,153.64 L658.20,153.64 L658.95,153.64 L659.70,153.63 L660.45,153.63 L661.20,153.63 L661.95,153.62 L662.70,153.62 L663.45,153.62 L664.20,153.61 L664.95,153.61 L665.70,153.61 L666.45,153.60 L667.20,153.60" fill="none" stroke="#00f4f4" stroke-width="2.5" stroke-dasharray="4.9 1.5 1.3 1.27"/>
<path d="M123.70,269.20 L124.45,268.72 L125.10,268.30 L125.20,268.24 L125.95,267.77 L126.70,267.31 L127.45,266.85 L128.20,266.40 L128.95,265.95 L129.70,265.50 L130.45,265.05 L131.20,264.60 L131.95,264.14 L132.70,263.68 L133.45,263.21 L134.20,262.73 L134.70,262.40 L134.94,262.24 L135.69,261.74 L136.44,261.24 L137.19,260.73 L137.94,260.21 L138.69,259.69 L139.44,259.16 L140.19,258.62 L140.94,258.08 L141.69,257.53 L142.00,257.30 L142.44,256.97 L143.19,256.40 L143.94,255.83 L144.69,255.24 L145.44,254.65 L146.19,254.05 L146.94,253.45 L147.69,252.83 L148.44,252.21 L149.19,251.58 L149.40,251.40 L149.94,250.94 L150.69,250.29 L151.44,249.64 L152.19,248.97 L152.94,248.30 L153.69,247.61 L154.44,246.92 L155.19,246.23 L155.94,245.52 L156.68,244.81 L156.70,244.80 L157.43,244.10 L158.18,243.39 L158.93,242.67 L159.68,241.94 L160.43,241.20 L161.18,240.45 L161.93,239.69 L162.68,238.92 L163.43,238.12 L164.10,237.40 L164.18,237.31 L164.93,236.48 L165.68,235.63 L166.43,234.76 L167.18,233.87 L167.93,232.97 L168.68,232.05 L169.43,231.11 L170.18,230.17 L170.93,229.21 L171.40,228.60 L171.68,228.24 L172.43,227.25 L173.18,226.24 L173.93,225.22 L174.68,224.18 L175.43,223.12 L176.18,222.06 L176.93,220.98 L177.68,219.89 L178.42,218.80 L178.70,218.40 L179.17,217.70 L179.92,216.55 L180.67,215.38 L181.42,214.19 L182.17,213.00 L182.92,211.82 L183.67,210.68 L184.42,209.57 L184.90,208.90 L185.17,208.52 L185.92,207.50 L186.67,206.50 L187.42,205.52 L188.17,204.56 L188.92,203.62 L189.67,202.70 L190.42,201.82 L191.17,200.96 L191.40,200.70 L191.92,200.13 L192.67,199.33 L193.42,198.55 L194.17,197.79 L194.92,197.05 L195.67,196.32 L196.42,195.61 L197.17,194.90 L197.80,194.30 L197.92,194.19 L198.67,193.50 L199.42,192.81 L200.16,192.14 L200.91,191.48 L201.66,190.83 L202.41,190.17 L203.16,189.51 L203.91,188.85 L204.30,188.50 L204.66,188.17 L205.41,187.47 L206.16,186.76 L206.91,186.05 L207.66,185.34 L208.41,184.64 L209.16,183.97 L209.91,183.33 L210.66,182.73 L210.70,182.70 L211.41,182.15 L212.16,181.57 L212.91,180.99 L213.66,180.44 L214.41,179.91 L215.16,179.43 L215.91,179.01 L216.66,178.67 L217.10,178.50 L217.41,178.40 L218.16,178.14 L218.91,177.90 L219.66,177.68 L220.41,177.50 L221.16,177.37 L221.90,177.31 L222.20,177.30 L222.65,177.33 L223.40,177.47 L224.15,177.72 L224.90,178.06 L225.65,178.46 L226.40,178.90 L227.15,179.35 L227.40,179.50 L227.90,179.84 L228.65,180.48 L229.40,181.23 L230.15,182.07 L230.90,182.93 L231.65,183.79 L232.40,184.60 L232.50,184.70 L233.15,185.41 L233.90,186.27 L234.65,187.08 L235.40,187.72 L235.70,187.90 L236.15,188.13 L236.90,188.48 L237.65,188.80 L238.40,189.04 L239.15,189.18 L239.60,189.20 L239.90,189.18 L240.65,189.03 L241.40,188.73 L242.15,188.33 L242.90,187.88 L243.64,187.41 L244.00,187.20 L244.39,186.95 L245.14,186.40 L245.89,185.76 L246.64,185.07 L247.39,184.36 L248.14,183.65 L248.89,182.97 L249.20,182.70 L249.64,182.32 L250.39,181.65 L251.14,180.98 L251.89,180.32 L252.64,179.68 L253.39,179.10 L254.14,178.60 L254.30,178.50 L254.89,178.15 L255.64,177.73 L256.39,177.32 L257.14,176.95 L257.89,176.62 L258.64,176.34 L259.39,176.13 L259.50,176.10 L260.14,175.95 L260.89,175.79 L261.64,175.64 L262.39,175.52 L263.14,175.44 L263.89,175.40 L264.00,175.40 L264.64,175.45 L265.38,175.61 L266.13,175.87 L266.88,176.20 L267.63,176.58 L268.38,176.99 L268.40,177.00 L269.13,177.61 L269.88,178.51 L270.63,179.45 L271.38,180.19 L271.40,180.20 L272.13,180.73 L272.88,181.23 L273.63,181.71 L274.38,182.14 L275.13,182.54 L275.88,182.89 L276.63,183.21 L277.38,183.47 L277.80,183.60 L278.13,183.69 L278.88,183.91 L279.63,184.11 L280.38,184.27 L281.13,184.37 L281.70,184.40 L281.88,184.39 L282.63,184.27 L283.38,184.00 L284.13,183.64 L284.88,183.21 L285.63,182.76 L286.38,182.32 L286.80,182.10 L287.12,181.93 L287.87,181.52 L288.62,181.09 L289.37,180.63 L290.12,180.17 L290.87,179.72 L291.62,179.29 L292.37,178.89 L293.12,178.53 L293.20,178.50 L293.87,178.22 L294.62,177.93 L295.37,177.66 L296.12,177.41 L296.87,177.17 L297.62,176.94 L298.37,176.72 L299.12,176.49 L299.87,176.27 L300.62,176.03 L301.37,175.79 L302.12,175.53 L302.87,175.25 L303.50,175.00 L303.62,174.95 L304.37,174.62 L305.12,174.25 L305.87,173.86 L306.62,173.45 L307.37,173.05 L308.12,172.65 L308.86,172.27 L309.61,171.92 L309.90,171.80 L310.36,171.61 L311.11,171.29 L311.86,170.99 L312.61,170.69 L313.36,170.40 L314.11,170.14 L314.86,169.89 L315.61,169.67 L316.30,169.50 L316.36,169.49 L317.11,169.31 L317.86,169.13 L318.61,168.96 L319.36,168.81 L320.11,168.70 L320.86,168.62 L321.50,168.60 L321.61,168.60 L322.36,168.62 L323.11,168.67 L323.86,168.75 L324.61,168.84 L325.36,168.95 L326.11,169.07 L326.86,169.18 L327.61,169.30 L328.36,169.40 L329.11,169.49 L329.20,169.50 L329.86,169.57 L330.60,169.65 L331.35,169.73 L332.10,169.81 L332.85,169.89 L333.60,169.97 L334.35,170.03 L335.10,170.10 L335.85,170.15 L336.60,170.19 L336.90,170.20 L337.35,170.22 L338.10,170.25 L338.85,170.27 L339.60,170.30 L340.35,170.32 L341.10,170.35 L341.85,170.37 L342.60,170.39 L343.35,170.41 L344.10,170.43 L344.85,170.44 L345.60,170.46 L346.35,170.47 L347.10,170.48 L347.85,170.49 L348.60,170.50 L349.35,170.50 L350.00,170.50 L350.10,170.50 L350.85,170.50 L351.60,170.50 L352.34,170.49 L353.09,170.49 L353.84,170.48 L354.59,170.48 L355.34,170.47 L356.09,170.46 L356.84,170.45 L357.59,170.45 L358.34,170.44 L359.09,170.42 L359.84,170.41 L360.59,170.40 L361.34,170.39 L362.09,170.38 L362.84,170.36 L363.59,170.35 L364.34,170.34 L365.09,170.32 L365.84,170.31 L366.30,170.30 L366.59,170.29 L367.34,170.28 L368.09,170.26 L368.84,170.24 L369.59,170.22 L370.34,170.20 L371.09,170.17 L371.84,170.15 L372.59,170.12 L373.34,170.09 L374.08,170.06 L374.83,170.03 L375.58,170.00 L376.33,169.97 L377.08,169.94 L377.83,169.90 L378.58,169.87 L379.33,169.83 L380.00,169.80 L380.08,169.80 L380.83,169.76 L381.58,169.72 L382.33,169.67 L383.08,169.63 L383.83,169.58 L384.58,169.53 L385.33,169.48 L386.08,169.43 L386.83,169.37 L387.58,169.32 L388.33,169.26 L389.08,169.20 L389.83,169.15 L390.58,169.09 L391.33,169.03 L391.70,169.00 L392.08,168.97 L392.83,168.91 L393.58,168.85 L394.33,168.79 L395.08,168.72 L395.82,168.66 L396.57,168.59 L397.32,168.53 L398.07,168.46 L398.82,168.39 L399.57,168.32 L400.32,168.25 L401.07,168.18 L401.82,168.11 L402.57,168.04 L403.32,167.96 L404.07,167.89 L404.82,167.82 L405.00,167.80 L405.57,167.74 L406.32,167.65 L407.07,167.56 L407.82,167.46 L408.57,167.35 L409.32,167.24 L410.07,167.13 L410.82,167.03 L411.57,166.93 L412.32,166.83 L413.07,166.74 L413.82,166.66 L414.57,166.60 L415.32,166.55 L416.07,166.52 L416.82,166.50 L417.00,166.50 L417.56,166.51 L418.31,166.56 L419.06,166.65 L419.81,166.77 L420.56,166.91 L421.31,167.06 L422.06,167.22 L422.81,167.39 L423.56,167.56 L424.31,167.71 L425.06,167.85 L425.81,167.97 L426.00,168.00 L426.56,168.08 L427.31,168.18 L428.06,168.30 L428.81,168.41 L429.56,168.52 L430.31,168.62 L431.06,168.72 L431.81,168.81 L432.56,168.88 L433.31,168.94 L434.06,168.98 L434.81,169.00 L435.00,169.00 L435.56,168.99 L436.31,168.96 L437.06,168.92 L437.81,168.85 L438.56,168.77 L439.30,168.68 L440.05,168.58 L440.80,168.47 L441.55,168.36 L442.30,168.24 L443.05,168.13 L443.80,168.03 L444.00,168.00 L444.55,167.92 L445.30,167.82 L446.05,167.70 L446.80,167.58 L447.55,167.46 L448.30,167.33 L449.05,167.20 L449.80,167.06 L450.55,166.92 L451.30,166.78 L452.05,166.63 L452.70,166.50 L452.80,166.48 L453.55,166.32 L454.30,166.15 L455.05,165.97 L455.80,165.79 L456.55,165.60 L457.30,165.40 L458.05,165.21 L458.80,165.02 L459.55,164.84 L460.30,164.66 L461.00,164.50 L461.04,164.49 L461.79,164.32 L462.54,164.16 L463.29,163.99 L464.04,163.82 L464.79,163.66 L465.54,163.49 L466.29,163.34 L467.04,163.19 L467.79,163.05 L468.54,162.92 L469.29,162.80 L470.00,162.70 L470.04,162.69 L470.79,162.60 L471.54,162.50 L472.29,162.41 L473.04,162.32 L473.79,162.24 L474.54,162.15 L475.29,162.07 L476.04,162.00 L476.79,161.92 L477.54,161.85 L478.29,161.78 L479.04,161.71 L479.79,161.64 L480.54,161.57 L481.29,161.51 L482.04,161.45 L482.78,161.39 L483.53,161.33 L484.28,161.27 L485.03,161.21 L485.78,161.15 L486.53,161.09 L487.28,161.04 L488.03,160.98 L488.78,160.92 L489.53,160.87 L490.28,160.81 L491.03,160.75 L491.78,160.70 L492.53,160.64 L493.28,160.58 L494.03,160.52 L494.78,160.46 L495.53,160.40 L496.28,160.33 L497.03,160.27 L497.78,160.20 L498.53,160.14 L499.28,160.07 L500.00,160.00 L500.03,160.00 L500.78,159.92 L501.53,159.85 L502.28,159.77 L503.03,159.68 L503.78,159.60 L504.52,159.51 L505.27,159.42 L506.02,159.32 L506.77,159.23 L507.52,159.13 L508.27,159.04 L509.02,158.94 L509.77,158.83 L510.52,158.73 L511.27,158.63 L512.02,158.53 L512.77,158.42 L513.52,158.32 L514.27,158.22 L515.02,158.11 L515.77,158.01 L516.52,157.91 L517.27,157.81 L518.02,157.71 L518.77,157.61 L519.52,157.51 L520.27,157.41 L521.02,157.32 L521.77,157.23 L522.52,157.14 L523.27,157.05 L524.02,156.96 L524.77,156.88 L525.52,156.80 L526.26,156.73 L527.01,156.65 L527.76,156.58 L528.51,156.52 L529.26,156.46 L530.01,156.40 L530.76,156.35 L531.51,156.30 L532.26,156.26 L533.01,156.22 L533.76,156.18 L534.51,156.16 L535.26,156.13 L536.01,156.12 L536.76,156.10 L537.51,156.10 L537.70,156.10 L538.26,156.10 L539.01,156.11 L539.76,156.13 L540.51,156.16 L541.26,156.20 L542.01,156.24 L542.76,156.28 L543.51,156.34 L544.26,156.39 L545.01,156.45 L545.76,156.52 L546.51,156.58 L547.26,156.65 L548.00,156.72 L548.75,156.79 L549.50,156.86 L550.25,156.93 L551.00,157.00 L551.75,157.07 L552.50,157.13 L553.25,157.19 L554.00,157.25 L554.75,157.30 L555.50,157.35 L556.25,157.39 L557.00,157.43 L557.75,157.46 L558.50,157.48 L559.25,157.50 L560.00,157.50 L560.00,157.50 L560.75,157.50 L561.50,157.50 L562.25,157.50 L563.00,157.49 L563.75,157.49 L564.50,157.48 L565.25,157.48 L566.00,157.47 L566.75,157.46 L567.50,157.45 L568.25,157.45 L569.00,157.44 L569.74,157.43 L570.49,157.41 L571.24,157.40 L571.99,157.39 L572.74,157.38 L573.49,157.37 L574.24,157.35 L574.99,157.34 L575.74,157.33 L576.49,157.32 L577.24,157.30 L577.99,157.29 L578.74,157.27 L579.49,157.26 L580.24,157.25 L580.99,157.23 L581.74,157.22 L582.49,157.20 L583.24,157.19 L583.99,157.18 L584.74,157.16 L585.49,157.15 L586.24,157.14 L586.99,157.12 L587.74,157.11 L588.49,157.10 L589.24,157.09 L589.99,157.08 L590.74,157.07 L591.48,157.06 L592.23,157.05 L592.98,157.04 L593.73,157.03 L594.48,157.03 L595.23,157.02 L595.98,157.01 L596.73,157.01 L597.48,157.01 L598.23,157.00 L598.98,157.00 L599.73,157.00 L600.00,157.00 L600.48,157.00 L601.23,157.00 L601.98,157.00 L602.73,157.00 L603.48,157.00 L604.23,157.00 L604.98,157.00 L605.73,157.00 L606.48,157.00 L607.23,157.01 L607.98,157.01 L608.73,157.01 L609.48,157.01 L610.23,157.01 L610.98,157.01 L611.73,157.01 L612.48,157.02 L613.22,157.02 L613.97,157.02 L614.72,157.02 L615.47,157.03 L616.22,157.03 L616.97,157.03 L617.72,157.04 L618.47,157.04 L619.22,157.04 L619.97,157.05 L620.72,157.05 L621.47,157.05 L622.22,157.06 L622.97,157.06 L623.72,157.07 L624.47,157.07 L625.22,157.08 L625.97,157.08 L626.72,157.09 L627.47,157.09 L628.22,157.10 L628.97,157.10 L629.72,157.11 L630.47,157.11 L631.22,157.12 L631.97,157.13 L632.72,157.13 L633.47,157.14 L634.22,157.15 L634.96,157.16 L635.71,157.16 L636.46,157.17 L637.21,157.18 L637.96,157.19 L638.71,157.19 L639.46,157.20 L640.21,157.21 L640.96,157.22 L641.71,157.23 L642.46,157.24 L643.21,157.25 L643.96,157.26 L644.71,157.27 L645.46,157.28 L646.21,157.29 L646.96,157.30 L647.71,157.31 L648.46,157.33 L649.21,157.34 L649.96,157.35 L650.71,157.36 L651.46,157.37 L652.21,157.39 L652.96,157.40 L653.71,157.41 L654.46,157.43 L655.21,157.44 L655.96,157.45 L656.70,157.47 L657.45,157.48 L658.20,157.50 L658.95,157.51 L659.70,157.53 L660.45,157.54 L661.20,157.56 L661.95,157.58 L662.70,157.59 L663.45,157.61 L664.20,157.63 L664.95,157.65 L665.70,157.66 L666.45,157.68 L667.20,157.70" fill="none" stroke="#ff5500" stroke-width="2.5" stroke-dasharray="2.2 1.4 2.2 1.4 2.2 3.2"/>
<path d="M123.70,264.80 L124.45,264.32 L125.10,263.90 L125.20,263.84 L125.95,263.37 L126.70,262.91 L127.45,262.45 L128.20,262.00 L128.95,261.55 L129.70,261.10 L130.45,260.65 L131.20,260.20 L131.95,259.74 L132.70,259.28 L133.45,258.81 L134.20,258.33 L134.70,258.00 L134.94,257.84 L135.69,257.34 L136.44,256.83 L137.19,256.31 L137.94,255.78 L138.69,255.25 L139.44,254.71 L140.19,254.18 L140.94,253.65 L141.69,253.12 L142.00,252.90 L142.44,252.59 L143.19,252.07 L143.94,251.55 L144.69,251.04 L145.44,250.52 L146.19,250.00 L146.94,249.48 L147.69,248.95 L148.44,248.41 L149.19,247.86 L149.40,247.70 L149.94,247.30 L150.69,246.72 L151.44,246.13 L152.19,245.54 L152.94,244.94 L153.69,244.33 L154.44,243.72 L155.19,243.12 L155.94,242.51 L156.68,241.91 L156.70,241.90 L157.43,241.32 L158.18,240.73 L158.93,240.14 L159.68,239.56 L160.43,238.97 L161.18,238.38 L161.93,237.78 L162.68,237.18 L163.43,236.56 L164.10,236.00 L164.18,235.93 L164.93,235.29 L165.68,234.64 L166.43,233.98 L167.18,233.31 L167.93,232.64 L168.68,231.95 L169.43,231.26 L170.18,230.56 L170.93,229.85 L171.40,229.40 L171.68,229.13 L172.43,228.40 L173.18,227.66 L173.93,226.91 L174.68,226.15 L175.43,225.39 L176.18,224.61 L176.93,223.84 L177.68,223.06 L178.42,222.28 L178.70,222.00 L179.17,221.51 L179.92,220.71 L180.67,219.90 L181.42,219.09 L182.17,218.28 L182.92,217.46 L183.67,216.66 L184.42,215.88 L185.17,215.11 L185.92,214.37 L186.10,214.20 L186.67,213.66 L187.42,212.96 L188.17,212.28 L188.92,211.60 L189.67,210.95 L190.42,210.30 L191.17,209.66 L191.92,209.04 L192.67,208.43 L192.70,208.40 L193.42,207.82 L194.17,207.23 L194.92,206.65 L195.67,206.08 L196.42,205.52 L197.17,204.96 L197.92,204.41 L198.67,203.86 L199.42,203.32 L200.16,202.77 L200.40,202.60 L200.91,202.21 L201.66,201.62 L202.41,201.04 L203.16,200.50 L203.91,200.04 L204.20,199.90 L204.66,199.68 L205.41,199.32 L206.16,199.00 L206.91,198.78 L207.60,198.70 L207.66,198.70 L208.41,198.81 L209.16,199.08 L209.91,199.48 L210.66,199.97 L210.70,200.00 L211.41,200.95 L212.16,202.61 L212.91,204.50 L213.20,205.20 L213.66,206.25 L214.41,208.05 L215.16,210.17 L215.20,210.30 L215.91,212.91 L216.60,216.00 L216.66,216.28 L217.41,221.48 L218.16,225.46 L218.30,225.60 L218.91,223.63 L219.66,218.25 L219.80,217.20 L220.41,211.38 L220.90,207.00 L221.16,205.55 L221.90,202.26 L222.20,201.20 L222.65,199.77 L223.40,197.75 L223.50,197.50 L224.15,195.67 L224.90,193.58 L225.65,191.83 L226.10,191.10 L226.40,190.72 L227.15,189.88 L227.90,189.17 L228.65,188.59 L229.40,188.13 L229.90,187.90 L230.15,187.79 L230.90,187.53 L231.20,187.50 L231.65,187.57 L232.40,187.94 L233.15,188.54 L233.90,189.28 L234.40,189.80 L234.65,190.07 L235.40,191.10 L236.15,192.44 L236.90,194.06 L237.00,194.30 L237.65,196.30 L238.40,199.27 L238.90,201.30 L239.15,202.29 L239.90,205.49 L240.65,208.48 L240.80,209.00 L241.40,211.10 L242.15,213.69 L242.90,215.32 L243.20,215.50 L243.64,213.88 L244.39,207.47 L244.70,205.20 L245.14,202.61 L245.89,198.62 L246.40,196.20 L246.64,195.08 L247.39,191.65 L248.14,188.83 L248.50,187.90 L248.89,187.12 L249.64,185.87 L250.39,184.86 L251.14,184.03 L251.80,183.40 L251.89,183.32 L252.64,182.66 L253.39,182.07 L254.14,181.55 L254.89,181.12 L255.60,180.80 L255.64,180.79 L256.39,180.50 L257.14,180.23 L257.89,179.99 L258.64,179.78 L259.39,179.62 L260.14,179.52 L260.70,179.50 L260.89,179.50 L261.64,179.55 L262.39,179.66 L263.14,179.82 L263.89,180.03 L264.64,180.27 L265.38,180.55 L266.13,180.86 L266.88,181.18 L267.60,181.50 L267.63,181.52 L268.38,181.94 L269.13,182.50 L269.88,183.18 L270.63,183.95 L271.38,184.79 L272.13,185.67 L272.88,186.57 L273.63,187.47 L274.00,187.90 L274.38,188.35 L275.13,189.28 L275.88,190.25 L276.63,191.28 L277.38,192.34 L278.13,193.44 L278.88,194.56 L279.10,194.90 L279.63,195.72 L280.38,196.93 L281.13,198.19 L281.88,199.48 L282.63,200.82 L283.38,202.18 L284.13,203.57 L284.30,203.90 L284.88,205.03 L285.63,206.60 L286.38,208.22 L287.12,209.84 L287.87,211.38 L288.62,212.77 L288.70,212.90 L289.37,214.13 L290.12,215.60 L290.87,217.01 L291.62,218.19 L292.37,218.97 L293.00,219.20 L293.12,219.18 L293.87,218.24 L294.62,216.36 L295.37,214.11 L295.80,212.90 L296.12,212.01 L296.87,209.66 L297.62,207.13 L298.37,204.63 L298.60,203.90 L299.12,202.29 L299.87,199.98 L300.62,197.73 L301.37,195.55 L301.60,194.90 L302.12,193.47 L302.87,191.43 L303.62,189.47 L304.37,187.61 L304.80,186.60 L305.12,185.88 L305.87,184.23 L306.62,182.65 L307.37,181.16 L308.12,179.75 L308.60,178.90 L308.86,178.45 L309.61,177.18 L310.36,175.97 L311.11,174.85 L311.86,173.84 L312.50,173.10 L312.61,172.98 L313.36,172.20 L314.11,171.48 L314.86,170.83 L315.61,170.29 L316.30,169.90 L316.36,169.87 L317.11,169.51 L317.86,169.16 L318.61,168.85 L319.36,168.58 L320.11,168.37 L320.86,168.24 L321.50,168.20 L321.61,168.20 L322.36,168.25 L323.11,168.36 L323.86,168.51 L324.61,168.71 L325.36,168.92 L326.11,169.15 L326.60,169.30 L326.86,169.38 L327.61,169.67 L328.36,170.03 L329.11,170.42 L329.86,170.83 L330.60,171.23 L331.35,171.60 L331.80,171.80 L332.10,171.93 L332.85,172.27 L333.60,172.61 L334.35,172.94 L335.10,173.23 L335.85,173.48 L336.60,173.65 L336.90,173.70 L337.35,173.76 L338.10,173.85 L338.85,173.93 L339.60,174.00 L340.35,174.05 L341.10,174.08 L341.85,174.10 L342.00,174.10 L342.60,174.08 L343.35,174.01 L344.10,173.89 L344.85,173.73 L345.60,173.55 L346.35,173.35 L347.10,173.14 L347.85,172.94 L348.40,172.80 L348.60,172.75 L349.35,172.54 L350.10,172.30 L350.85,172.05 L351.60,171.79 L352.34,171.53 L353.09,171.28 L353.84,171.06 L354.59,170.87 L354.90,170.80 L355.34,170.71 L356.09,170.57 L356.84,170.43 L357.59,170.30 L358.34,170.18 L359.09,170.06 L359.84,169.95 L360.59,169.85 L361.34,169.75 L362.09,169.65 L362.84,169.56 L363.59,169.47 L364.34,169.38 L365.09,169.30 L365.84,169.22 L366.00,169.20 L366.59,169.14 L367.34,169.05 L368.09,168.96 L368.84,168.88 L369.59,168.79 L370.34,168.71 L371.09,168.63 L371.84,168.55 L372.59,168.48 L373.34,168.42 L374.08,168.38 L374.83,168.34 L375.58,168.31 L376.33,168.30 L376.50,168.30 L377.08,168.30 L377.83,168.30 L378.58,168.30 L379.33,168.30 L380.08,168.30 L380.83,168.30 L381.58,168.30 L382.33,168.30 L383.08,168.30 L383.83,168.30 L384.58,168.30 L385.33,168.30 L386.08,168.30 L386.83,168.30 L387.58,168.30 L388.33,168.30 L389.08,168.30 L389.83,168.30 L390.58,168.30 L391.33,168.30 L392.08,168.30 L392.83,168.30 L393.58,168.30 L394.33,168.30 L395.08,168.30 L395.82,168.30 L396.57,168.30 L396.80,168.30 L397.32,168.30 L398.07,168.28 L398.82,168.24 L399.57,168.20 L400.32,168.14 L401.07,168.08 L401.82,168.00 L402.57,167.92 L403.32,167.83 L404.07,167.74 L404.82,167.64 L405.57,167.54 L406.32,167.44 L407.07,167.35 L407.82,167.25 L408.57,167.16 L409.32,167.07 L410.00,167.00 L410.07,166.99 L410.82,166.91 L411.57,166.82 L412.32,166.72 L413.07,166.62 L413.82,166.51 L414.57,166.41 L415.32,166.30 L416.07,166.20 L416.82,166.10 L417.56,166.01 L418.31,165.93 L419.06,165.85 L419.81,165.79 L420.56,165.74 L421.31,165.71 L422.06,165.70 L422.20,165.70 L422.81,165.71 L423.56,165.73 L424.31,165.76 L425.06,165.81 L425.81,165.86 L426.56,165.92 L427.31,165.98 L428.06,166.05 L428.81,166.11 L429.56,166.17 L430.31,166.22 L431.06,166.26 L431.81,166.29 L432.00,166.30 L432.56,166.32 L433.31,166.34 L434.06,166.36 L434.81,166.38 L435.56,166.40 L436.31,166.42 L437.06,166.43 L437.81,166.45 L438.56,166.46 L439.30,166.47 L440.05,166.48 L440.80,166.49 L441.55,166.50 L442.30,166.50 L442.60,166.50 L443.05,166.50 L443.80,166.47 L444.55,166.42 L445.30,166.36 L446.05,166.27 L446.80,166.18 L447.55,166.07 L448.30,165.95 L449.05,165.82 L449.80,165.69 L450.55,165.55 L451.30,165.42 L452.05,165.28 L452.80,165.15 L453.55,165.02 L454.30,164.90 L455.00,164.80 L455.05,164.79 L455.80,164.69 L456.55,164.58 L457.30,164.47 L458.05,164.36 L458.80,164.24 L459.55,164.13 L460.30,164.01 L461.04,163.90 L461.79,163.78 L462.54,163.67 L463.29,163.56 L464.04,163.45 L464.79,163.34 L465.54,163.24 L466.29,163.14 L467.04,163.04 L467.79,162.94 L468.54,162.86 L469.29,162.77 L470.00,162.70 L470.04,162.70 L470.79,162.62 L471.54,162.55 L472.29,162.48 L473.04,162.42 L473.79,162.35 L474.54,162.29 L475.29,162.23 L476.04,162.17 L476.79,162.11 L477.54,162.06 L478.29,162.00 L479.04,161.95 L479.79,161.90 L480.54,161.85 L481.29,161.79 L482.04,161.75 L482.78,161.70 L483.53,161.65 L484.28,161.60 L485.03,161.55 L485.78,161.51 L486.53,161.46 L487.28,161.41 L488.03,161.36 L488.78,161.32 L489.53,161.27 L490.28,161.22 L491.03,161.17 L491.78,161.12 L492.53,161.07 L493.28,161.02 L494.03,160.97 L494.78,160.91 L495.53,160.86 L496.28,160.80 L497.03,160.75 L497.78,160.69 L498.53,160.63 L499.28,160.56 L500.00,160.50 L500.03,160.50 L500.78,160.43 L501.53,160.36 L502.28,160.28 L503.03,160.20 L503.78,160.11 L504.52,160.03 L505.27,159.93 L506.02,159.84 L506.77,159.74 L507.52,159.64 L508.27,159.54 L509.02,159.44 L509.77,159.33 L510.52,159.22 L511.27,159.11 L512.02,159.00 L512.77,158.89 L513.52,158.78 L514.27,158.67 L515.02,158.55 L515.77,158.44 L516.52,158.33 L517.27,158.22 L518.02,158.11 L518.77,158.00 L519.52,157.89 L520.27,157.78 L521.02,157.68 L521.77,157.58 L522.52,157.47 L523.27,157.38 L524.02,157.28 L524.77,157.19 L525.52,157.10 L526.26,157.01 L527.01,156.93 L527.76,156.85 L528.51,156.78 L529.26,156.71 L530.01,156.64 L530.76,156.58 L531.51,156.53 L532.26,156.48 L533.01,156.43 L533.76,156.40 L534.51,156.36 L535.26,156.34 L536.01,156.32 L536.76,156.31 L537.51,156.30 L537.70,156.30 L538.26,156.30 L539.01,156.31 L539.76,156.32 L540.51,156.34 L541.26,156.37 L542.01,156.40 L542.76,156.44 L543.51,156.48 L544.26,156.53 L545.01,156.58 L545.76,156.63 L546.51,156.69 L547.26,156.75 L548.00,156.81 L548.75,156.88 L549.50,156.95 L550.25,157.02 L551.00,157.09 L551.75,157.16 L552.50,157.24 L553.25,157.32 L554.00,157.39 L554.75,157.47 L555.50,157.55 L556.25,157.63 L557.00,157.70 L557.75,157.78 L558.50,157.85 L559.25,157.93 L560.00,158.00 L560.00,158.00 L560.75,158.08 L561.50,158.16 L562.25,158.26 L563.00,158.36 L563.75,158.47 L564.50,158.58 L565.25,158.70 L566.00,158.82 L566.75,158.95 L567.50,159.07 L568.25,159.19 L569.00,159.31 L569.74,159.43 L570.49,159.54 L571.24,159.65 L571.99,159.76 L572.74,159.85 L573.49,159.94 L574.24,160.01 L574.99,160.08 L575.74,160.13 L576.49,160.17 L577.24,160.19 L577.99,160.20 L578.00,160.20 L578.74,160.18 L579.49,160.13 L580.24,160.04 L580.99,159.93 L581.74,159.80 L582.49,159.64 L583.24,159.47 L583.99,159.30 L584.74,159.11 L585.49,158.92 L586.24,158.74 L586.99,158.56 L587.74,158.40 L588.49,158.24 L589.24,158.11 L589.99,158.00 L590.00,158.00 L590.74,157.90 L591.48,157.80 L592.23,157.70 L592.98,157.60 L593.73,157.50 L594.48,157.40 L595.23,157.31 L595.98,157.23 L596.73,157.16 L597.48,157.10 L598.23,157.05 L598.98,157.02 L599.73,157.00 L600.00,157.00 L600.48,157.00 L601.23,157.00 L601.98,157.00 L602.73,157.00 L603.48,157.01 L604.23,157.01 L604.98,157.01 L605.73,157.02 L606.48,157.02 L607.23,157.03 L607.98,157.04 L608.73,157.04 L609.48,157.05 L610.23,157.06 L610.98,157.06 L611.73,157.07 L612.48,157.08 L613.22,157.09 L613.97,157.10 L614.72,157.11 L615.47,157.12 L616.22,157.13 L616.97,157.14 L617.72,157.15 L618.47,157.16 L619.22,157.17 L619.97,157.18 L620.72,157.19 L621.47,157.20 L622.22,157.21 L622.97,157.22 L623.72,157.23 L624.47,157.24 L625.22,157.24 L625.97,157.25 L626.72,157.26 L627.47,157.27 L628.22,157.28 L628.97,157.29 L629.72,157.30 L630.00,157.30 L630.47,157.30 L631.22,157.31 L631.97,157.32 L632.72,157.33 L633.47,157.34 L634.22,157.34 L634.96,157.35 L635.71,157.36 L636.46,157.37 L637.21,157.38 L637.96,157.38 L638.71,157.39 L639.46,157.40 L640.21,157.41 L640.96,157.41 L641.71,157.42 L642.46,157.43 L643.21,157.44 L643.96,157.45 L644.71,157.45 L645.46,157.46 L646.21,157.47 L646.96,157.48 L647.71,157.49 L648.46,157.49 L649.21,157.50 L649.96,157.51 L650.71,157.52 L651.46,157.53 L652.21,157.54 L652.96,157.54 L653.71,157.55 L654.46,157.56 L655.21,157.57 L655.96,157.58 L656.70,157.58 L657.45,157.59 L658.20,157.60 L658.95,157.61 L659.70,157.62 L660.45,157.63 L661.20,157.63 L661.95,157.64 L662.70,157.65 L663.45,157.66 L664.20,157.67 L664.95,157.67 L665.70,157.68 L666.45,157.69 L667.20,157.70" fill="none" stroke="#000000" stroke-width="2.5" stroke-dasharray="2.2 1.4 2.2 3.17"/>
<path d="M132.20,466.00 L132.95,463.89 L133.70,461.83 L134.45,459.81 L135.20,457.83 L135.95,455.90 L136.30,455.00 L136.70,454.00 L137.45,452.15 L138.19,450.35 L138.94,448.63 L139.00,448.50 L139.69,446.99 L140.44,445.43 L141.19,443.91 L141.94,442.42 L142.10,442.10 L142.69,440.94 L143.44,439.49 L144.19,438.07 L144.94,436.68 L145.20,436.20 L145.69,435.33 L146.44,434.02 L147.19,432.74 L147.94,431.46 L148.50,430.50 L148.68,430.18 L149.43,428.90 L150.18,427.61 L150.93,426.33 L151.68,425.05 L152.43,423.77 L153.18,422.50 L153.93,421.23 L154.68,419.97 L154.90,419.60 L155.43,418.72 L156.18,417.49 L156.93,416.27 L157.68,415.06 L158.43,413.85 L159.17,412.62 L159.92,411.38 L160.67,410.12 L160.80,409.90 L161.42,408.83 L162.17,407.53 L162.92,406.21 L163.67,404.88 L164.42,403.53 L165.17,402.16 L165.92,400.75 L166.00,400.60 L166.67,399.32 L167.42,397.87 L168.17,396.39 L168.92,394.88 L169.66,393.36 L170.41,391.82 L171.16,390.26 L171.91,388.69 L172.10,388.30 L172.66,387.11 L173.41,385.50 L174.16,383.87 L174.91,382.23 L175.66,380.57 L176.41,378.90 L177.16,377.22 L177.91,375.53 L178.50,374.20 L178.66,373.85 L179.41,372.16 L180.16,370.45 L180.90,368.75 L181.65,367.03 L182.40,365.30 L183.15,363.57 L183.90,361.83 L184.65,360.08 L184.90,359.50 L185.40,358.32 L186.15,356.55 L186.90,354.75 L187.65,352.95 L188.40,351.14 L189.15,349.34 L189.90,347.56 L190.65,345.79 L191.20,344.50 L191.39,344.05 L192.14,342.33 L192.89,340.62 L193.64,338.92 L194.39,337.23 L195.14,335.55 L195.89,333.88 L196.64,332.22 L197.39,330.56 L198.14,328.91 L198.60,327.90 L198.89,327.27 L199.64,325.61 L200.39,323.94 L201.14,322.28 L201.88,320.62 L202.63,318.99 L203.38,317.39 L204.13,315.83 L204.88,314.32 L205.30,313.50 L205.63,312.86 L206.38,311.43 L207.13,310.02 L207.88,308.63 L208.63,307.28 L209.38,305.96 L210.13,304.69 L210.88,303.47 L211.63,302.30 L212.10,301.60 L212.38,301.20 L213.12,300.14 L213.87,299.13 L214.62,298.15 L215.37,297.20 L216.12,296.28 L216.87,295.39 L217.62,294.53 L218.37,293.68 L218.90,293.10 L219.12,292.86 L219.87,292.05 L220.62,291.24 L221.37,290.47 L222.12,289.73 L222.87,289.03 L223.61,288.40 L224.00,288.10 L224.36,287.82 L225.11,287.26 L225.86,286.72 L226.61,286.23 L227.36,285.82 L228.11,285.53 L228.20,285.50 L228.86,285.31 L229.61,285.12 L230.36,284.94 L231.11,284.81 L231.86,284.72 L232.50,284.70 L232.61,284.70 L233.36,284.75 L234.10,284.87 L234.85,285.04 L235.60,285.24 L236.35,285.46 L237.10,285.69 L237.50,285.80 L237.85,285.91 L238.60,286.17 L239.35,286.49 L240.10,286.82 L240.85,287.17 L241.60,287.49 L242.35,287.78 L243.10,288.01 L243.50,288.10 L243.85,288.17 L244.59,288.32 L245.34,288.46 L246.09,288.59 L246.84,288.71 L247.59,288.80 L248.34,288.86 L249.09,288.90 L249.40,288.90 L249.84,288.89 L250.59,288.82 L251.34,288.70 L252.09,288.53 L252.84,288.32 L253.59,288.09 L254.34,287.84 L255.09,287.58 L255.83,287.32 L256.20,287.20 L256.58,287.07 L257.33,286.77 L258.08,286.43 L258.83,286.06 L259.58,285.67 L260.33,285.27 L261.08,284.85 L261.83,284.43 L262.58,284.02 L263.00,283.80 L263.33,283.63 L264.08,283.22 L264.83,282.81 L265.58,282.39 L266.32,281.96 L267.07,281.54 L267.82,281.12 L268.57,280.71 L269.32,280.30 L269.70,280.10 L270.07,279.90 L270.82,279.50 L271.57,279.10 L272.32,278.70 L273.07,278.30 L273.82,277.92 L274.57,277.55 L275.32,277.20 L276.07,276.88 L276.50,276.70 L276.81,276.58 L277.56,276.29 L278.31,276.02 L279.06,275.76 L279.81,275.51 L280.56,275.27 L281.31,275.04 L282.06,274.83 L282.81,274.63 L283.30,274.50 L283.56,274.44 L284.31,274.25 L285.06,274.08 L285.81,273.91 L286.56,273.74 L287.31,273.59 L288.05,273.45 L288.80,273.31 L289.55,273.18 L290.10,273.10 L290.30,273.07 L291.05,272.95 L291.80,272.83 L292.55,272.71 L293.30,272.60 L294.05,272.50 L294.80,272.41 L295.55,272.35 L296.30,272.31 L296.90,272.30 L297.05,272.30 L297.80,272.32 L298.54,272.35 L299.29,272.39 L300.00,272.40 L300.04,272.40 L300.79,272.38 L301.54,272.33 L302.29,272.25 L303.04,272.17 L303.79,272.08 L304.50,272.00 L304.54,272.00 L305.29,271.92 L306.04,271.84 L306.79,271.77 L307.54,271.69 L308.29,271.60 L309.03,271.52 L309.78,271.42 L310.53,271.33 L311.28,271.22 L312.03,271.11 L312.70,271.00 L312.78,270.99 L313.53,270.85 L314.28,270.68 L315.03,270.50 L315.78,270.30 L316.53,270.10 L317.28,269.89 L318.03,269.67 L318.78,269.46 L319.00,269.40 L319.52,269.25 L320.27,269.03 L321.02,268.80 L321.77,268.57 L322.52,268.34 L323.27,268.11 L324.02,267.88 L324.77,267.67 L325.40,267.50 L325.52,267.47 L326.27,267.28 L327.02,267.09 L327.77,266.91 L328.52,266.73 L329.27,266.56 L330.02,266.39 L330.76,266.22 L331.51,266.06 L332.26,265.90 L333.01,265.74 L333.76,265.58 L334.51,265.42 L335.26,265.27 L336.01,265.12 L336.76,264.97 L337.51,264.82 L338.10,264.70 L338.26,264.67 L339.01,264.52 L339.76,264.37 L340.51,264.23 L341.25,264.08 L342.00,263.94 L342.75,263.80 L343.50,263.66 L344.25,263.52 L345.00,263.39 L345.75,263.25 L346.50,263.12 L347.25,262.99 L348.00,262.87 L348.75,262.74 L349.50,262.62 L350.25,262.50 L350.90,262.40 L351.00,262.39 L351.74,262.27 L352.49,262.16 L353.24,262.05 L353.99,261.94 L354.74,261.83 L355.49,261.72 L356.24,261.61 L356.99,261.51 L357.74,261.40 L358.49,261.30 L359.24,261.20 L359.99,261.10 L360.74,261.00 L361.49,260.90 L362.24,260.80 L362.98,260.71 L363.73,260.61 L364.48,260.51 L365.23,260.42 L365.98,260.33 L366.73,260.23 L367.48,260.14 L368.23,260.05 L368.98,259.96 L369.73,259.87 L370.48,259.78 L371.23,259.69 L371.98,259.60 L372.73,259.51 L373.47,259.43 L374.22,259.34 L374.97,259.25 L375.72,259.17 L376.30,259.10 L376.47,259.08 L377.22,258.99 L377.97,258.91 L378.72,258.83 L379.47,258.74 L380.22,258.66 L380.97,258.58 L381.72,258.49 L382.47,258.41 L383.22,258.33 L383.96,258.25 L384.71,258.17 L385.46,258.09 L386.21,258.01 L386.96,257.93 L387.71,257.85 L388.46,257.77 L389.21,257.70 L389.96,257.62 L390.71,257.55 L391.46,257.47 L392.21,257.40 L392.96,257.32 L393.71,257.25 L394.45,257.17 L395.20,257.10 L395.95,257.03 L396.70,256.96 L397.45,256.89 L398.20,256.82 L398.95,256.75 L399.70,256.68 L400.45,256.61 L401.20,256.54 L401.70,256.50 L401.95,256.48 L402.70,256.41 L403.45,256.35 L404.20,256.28 L404.95,256.22 L405.69,256.16 L406.44,256.10 L407.19,256.04 L407.94,255.98 L408.69,255.92 L409.44,255.86 L410.19,255.80 L410.94,255.75 L411.69,255.69 L412.44,255.63 L413.19,255.58 L413.94,255.52 L414.69,255.46 L415.44,255.41 L416.18,255.35 L416.93,255.29 L417.68,255.24 L418.43,255.18 L419.18,255.13 L419.93,255.07 L420.68,255.01 L421.43,254.95 L422.18,254.90 L422.93,254.84 L423.68,254.78 L424.43,254.72 L425.18,254.66 L425.93,254.60 L426.67,254.54 L427.10,254.50 L427.42,254.47 L428.17,254.41 L428.92,254.35 L429.67,254.29 L430.42,254.22 L431.17,254.16 L431.92,254.10 L432.67,254.04 L433.42,253.97 L434.17,253.91 L434.92,253.85 L435.67,253.79 L436.42,253.72 L437.16,253.66 L437.91,253.60 L438.66,253.53 L439.41,253.47 L440.16,253.40 L440.91,253.34 L441.66,253.27 L442.41,253.20 L443.16,253.13 L443.91,253.07 L444.66,253.00 L445.41,252.93 L446.16,252.86 L446.91,252.78 L447.66,252.71 L448.40,252.64 L449.15,252.56 L449.90,252.48 L450.65,252.41 L451.40,252.33 L452.15,252.25 L452.60,252.20 L452.90,252.17 L453.65,252.08 L454.40,251.99 L455.15,251.89 L455.90,251.79 L456.65,251.69 L457.40,251.59 L458.15,251.48 L458.89,251.38 L459.64,251.28 L460.39,251.18 L461.14,251.08 L461.89,250.99 L462.64,250.91 L462.70,250.90 L463.39,250.83 L464.14,250.75 L464.89,250.68 L465.64,250.61 L466.39,250.54 L467.14,250.47 L467.89,250.40 L468.64,250.33 L469.38,250.26 L470.00,250.20 L470.13,250.19 L470.88,250.11 L471.63,250.03 L472.38,249.96 L473.13,249.88 L473.88,249.80 L474.63,249.72 L475.38,249.64 L476.13,249.56 L476.88,249.48 L477.63,249.41 L478.38,249.34 L479.13,249.27 L479.88,249.21 L480.00,249.20 L480.62,249.15 L481.37,249.10 L482.12,249.04 L482.87,248.99 L483.62,248.94 L484.37,248.89 L485.12,248.84 L485.87,248.79 L486.62,248.75 L487.37,248.70 L488.12,248.66 L488.87,248.62 L489.62,248.58 L490.37,248.53 L491.11,248.49 L491.86,248.45 L492.61,248.41 L493.36,248.36 L494.11,248.32 L494.86,248.28 L495.61,248.23 L496.36,248.19 L497.11,248.14 L497.86,248.09 L498.61,248.04 L499.36,247.99 L500.00,247.95 L500.11,247.94 L500.86,247.89 L501.60,247.83 L502.35,247.78 L503.10,247.72 L503.85,247.66 L504.60,247.60 L505.35,247.54 L506.10,247.48 L506.85,247.41 L507.60,247.35 L508.35,247.28 L509.10,247.22 L509.85,247.15 L510.60,247.09 L511.35,247.02 L512.09,246.95 L512.84,246.89 L513.59,246.82 L514.34,246.75 L515.09,246.69 L515.84,246.62 L516.59,246.55 L517.34,246.49 L518.09,246.42 L518.84,246.36 L519.59,246.29 L520.34,246.23 L521.09,246.17 L521.84,246.10 L522.59,246.04 L523.33,245.98 L524.08,245.92 L524.83,245.86 L525.58,245.81 L526.33,245.75 L527.08,245.70 L527.83,245.65 L528.58,245.60 L529.30,245.55 L529.33,245.55 L530.08,245.50 L530.83,245.45 L531.58,245.41 L532.33,245.36 L533.08,245.32 L533.82,245.27 L534.57,245.23 L535.32,245.19 L536.07,245.15 L536.82,245.11 L537.57,245.06 L538.32,245.02 L539.07,244.98 L539.82,244.94 L540.57,244.91 L541.32,244.87 L542.07,244.83 L542.82,244.79 L543.57,244.75 L544.31,244.72 L545.06,244.68 L545.81,244.64 L546.56,244.60 L547.31,244.57 L548.06,244.53 L548.81,244.49 L549.56,244.46 L550.31,244.42 L551.06,244.39 L551.81,244.35 L552.56,244.31 L553.31,244.28 L554.06,244.24 L554.81,244.21 L555.55,244.17 L556.30,244.13 L557.05,244.10 L557.80,244.06 L558.55,244.02 L559.30,243.99 L560.00,243.95 L560.05,243.95 L560.80,243.91 L561.55,243.87 L562.30,243.83 L563.05,243.80 L563.80,243.76 L564.55,243.72 L565.30,243.68 L566.04,243.64 L566.79,243.61 L567.54,243.57 L568.29,243.53 L569.04,243.49 L569.79,243.45 L570.54,243.41 L571.29,243.38 L572.04,243.34 L572.79,243.30 L573.54,243.26 L574.29,243.23 L575.04,243.19 L575.79,243.15 L576.53,243.12 L577.28,243.08 L578.03,243.04 L578.78,243.01 L579.53,242.97 L580.28,242.93 L581.03,242.90 L581.78,242.86 L582.53,242.83 L583.28,242.79 L584.03,242.76 L584.78,242.72 L585.53,242.69 L586.28,242.66 L587.02,242.62 L587.77,242.59 L588.52,242.56 L588.70,242.55 L589.27,242.53 L590.02,242.49 L590.77,242.46 L591.52,242.43 L592.27,242.40 L593.02,242.37 L593.77,242.34 L594.52,242.31 L595.27,242.28 L596.02,242.25 L596.77,242.22 L597.52,242.19 L598.26,242.16 L599.01,242.13 L599.76,242.11 L600.51,242.08 L601.26,242.05 L602.01,242.02 L602.76,241.99 L603.51,241.96 L604.26,241.94 L605.01,241.91 L605.76,241.88 L606.51,241.85 L607.26,241.83 L608.01,241.80 L608.75,241.77 L609.50,241.74 L610.25,241.72 L611.00,241.69 L611.75,241.66 L612.50,241.63 L613.25,241.61 L614.00,241.58 L614.75,241.55 L615.50,241.52 L616.25,241.49 L617.00,241.47 L617.75,241.44 L618.50,241.41 L619.24,241.38 L619.99,241.35 L620.00,241.35 L620.74,241.32 L621.49,241.29 L622.24,241.26 L622.99,241.23 L623.74,241.20 L624.49,241.17 L625.24,241.14 L625.99,241.11 L626.74,241.08 L627.49,241.05 L628.24,241.02 L628.99,240.99 L629.74,240.96 L630.48,240.93 L631.23,240.90 L631.98,240.87 L632.73,240.84 L633.48,240.81 L634.23,240.78 L634.98,240.75 L635.73,240.72 L636.48,240.69 L637.23,240.66 L637.98,240.63 L638.73,240.60 L639.48,240.57 L640.23,240.54 L640.97,240.51 L641.72,240.48 L642.47,240.45 L643.22,240.42 L643.97,240.39 L644.72,240.37 L645.47,240.34 L646.22,240.31 L646.97,240.29 L647.72,240.26 L648.00,240.25 L648.47,240.23 L649.22,240.21 L649.97,240.18 L650.72,240.16 L651.46,240.13 L652.21,240.11 L652.96,240.08 L653.71,240.06 L654.46,240.03 L655.21,240.01 L655.96,239.99 L656.71,239.96 L657.46,239.94 L658.21,239.92 L658.96,239.89 L659.71,239.87 L660.46,239.85 L661.21,239.82 L661.95,239.80 L662.70,239.78 L663.45,239.76 L664.20,239.74 L664.95,239.71 L665.70,239.69 L666.45,239.67 L667.20,239.65" fill="none" stroke="#fff400" stroke-width="1.9" stroke-dasharray="4.2 2.1 1.4 2.2"/>
<path d="M132.20,466.00 L132.95,463.89 L133.70,461.83 L134.45,459.81 L135.20,457.83 L135.95,455.90 L136.30,455.00 L136.70,454.00 L137.45,452.15 L138.19,450.35 L138.94,448.63 L139.00,448.50 L139.69,446.99 L140.44,445.43 L141.19,443.91 L141.94,442.42 L142.10,442.10 L142.69,440.94 L143.44,439.49 L144.19,438.07 L144.94,436.68 L145.20,436.20 L145.69,435.33 L146.44,434.02 L147.19,432.74 L147.94,431.46 L148.50,430.50 L148.68,430.18 L149.43,428.90 L150.18,427.61 L150.93,426.33 L151.68,425.05 L152.43,423.77 L153.18,422.50 L153.93,421.23 L154.68,419.97 L154.90,419.60 L155.43,418.72 L156.18,417.49 L156.93,416.27 L157.68,415.06 L158.43,413.85 L159.17,412.62 L159.92,411.38 L160.67,410.12 L160.80,409.90 L161.42,408.83 L162.17,407.53 L162.92,406.21 L163.67,404.88 L164.42,403.53 L165.17,402.16 L165.92,400.75 L166.00,400.60 L166.67,399.32 L167.42,397.87 L168.17,396.39 L168.92,394.88 L169.66,393.36 L170.41,391.82 L171.16,390.26 L171.91,388.69 L172.10,388.30 L172.66,387.11 L173.41,385.50 L174.16,383.87 L174.91,382.23 L175.66,380.57 L176.41,378.90 L177.16,377.22 L177.91,375.53 L178.50,374.20 L178.66,373.85 L179.41,372.16 L180.16,370.45 L180.90,368.75 L181.65,367.03 L182.40,365.30 L183.15,363.57 L183.90,361.83 L184.65,360.08 L184.90,359.50 L185.40,358.32 L186.15,356.55 L186.90,354.75 L187.65,352.95 L188.40,351.14 L189.15,349.34 L189.90,347.56 L190.65,345.79 L191.20,344.50 L191.39,344.05 L192.14,342.33 L192.89,340.62 L193.64,338.92 L194.39,337.23 L195.14,335.55 L195.89,333.88 L196.64,332.22 L197.39,330.56 L198.14,328.91 L198.60,327.90 L198.89,327.27 L199.64,325.61 L200.39,323.94 L201.14,322.28 L201.88,320.62 L202.63,318.99 L203.38,317.39 L204.13,315.83 L204.88,314.32 L205.30,313.50 L205.63,312.86 L206.38,311.43 L207.13,310.02 L207.88,308.63 L208.63,307.28 L209.38,305.96 L210.13,304.69 L210.88,303.47 L211.63,302.30 L212.10,301.60 L212.38,301.20 L213.12,300.14 L213.87,299.13 L214.62,298.15 L215.37,297.20 L216.12,296.28 L216.87,295.39 L217.62,294.53 L218.37,293.68 L218.90,293.10 L219.12,292.86 L219.87,292.05 L220.62,291.24 L221.37,290.47 L222.12,289.73 L222.87,289.03 L223.61,288.40 L224.00,288.10 L224.36,287.82 L225.11,287.26 L225.86,286.72 L226.61,286.23 L227.36,285.82 L228.11,285.53 L228.20,285.50 L228.86,285.31 L229.61,285.12 L230.36,284.94 L231.11,284.81 L231.86,284.72 L232.50,284.70 L232.61,284.70 L233.36,284.75 L234.10,284.87 L234.85,285.04 L235.60,285.24 L236.35,285.46 L237.10,285.69 L237.50,285.80 L237.85,285.91 L238.60,286.17 L239.35,286.49 L240.10,286.82 L240.85,287.17 L241.60,287.49 L242.35,287.78 L243.10,288.01 L243.50,288.10 L243.85,288.17 L244.59,288.32 L245.34,288.46 L246.09,288.59 L246.84,288.71 L247.59,288.80 L248.34,288.86 L249.09,288.90 L249.40,288.90 L249.84,288.89 L250.59,288.82 L251.34,288.70 L252.09,288.53 L252.84,288.32 L253.59,288.09 L254.34,287.84 L255.09,287.58 L255.83,287.32 L256.20,287.20 L256.58,287.07 L257.33,286.77 L258.08,286.43 L258.83,286.06 L259.58,285.67 L260.33,285.27 L261.08,284.85 L261.83,284.43 L262.58,284.02 L263.00,283.80 L263.33,283.63 L264.08,283.22 L264.83,282.81 L265.58,282.39 L266.32,281.96 L267.07,281.54 L267.82,281.12 L268.57,280.71 L269.32,280.30 L269.70,280.10 L270.07,279.90 L270.82,279.50 L271.57,279.10 L272.32,278.70 L273.07,278.30 L273.82,277.92 L274.57,277.55 L275.32,277.20 L276.07,276.88 L276.50,276.70 L276.81,276.58 L277.56,276.29 L278.31,276.02 L279.06,275.76 L279.81,275.51 L280.56,275.27 L281.31,275.04 L282.06,274.83 L282.81,274.63 L283.30,274.50 L283.56,274.44 L284.31,274.25 L285.06,274.07 L285.81,273.90 L286.56,273.73 L287.31,273.58 L288.05,273.43 L288.80,273.30 L289.55,273.18 L290.10,273.10 L290.30,273.07 L291.05,272.97 L291.80,272.86 L292.55,272.76 L293.30,272.67 L294.05,272.58 L294.80,272.51 L295.55,272.46 L296.30,272.42 L296.90,272.42 L297.05,272.42 L297.80,272.45 L298.54,272.50 L299.29,272.55 L300.00,272.57 L300.04,272.57 L300.79,272.55 L301.54,272.51 L302.29,272.45 L303.04,272.38 L303.79,272.31 L304.50,272.24 L304.54,272.24 L305.29,272.18 L306.04,272.11 L306.79,272.05 L307.54,271.98 L308.29,271.91 L309.03,271.83 L309.78,271.75 L310.53,271.67 L311.28,271.57 L312.03,271.47 L312.70,271.38 L312.78,271.37 L313.53,271.24 L314.28,271.09 L315.03,270.92 L315.78,270.74 L316.53,270.55 L317.28,270.35 L318.03,270.14 L318.78,269.94 L319.00,269.88 L319.52,269.74 L320.27,269.53 L321.02,269.30 L321.77,269.07 L322.52,268.84 L323.27,268.61 L324.02,268.38 L324.77,268.17 L325.40,268.00 L325.52,267.97 L326.27,267.78 L327.02,267.60 L327.77,267.41 L328.52,267.24 L329.27,267.06 L330.02,266.89 L330.76,266.72 L331.51,266.56 L332.26,266.40 L333.01,266.24 L333.76,266.08 L334.51,265.92 L335.26,265.77 L336.01,265.62 L336.76,265.47 L337.51,265.32 L338.10,265.20 L338.26,265.17 L339.01,265.02 L339.76,264.87 L340.51,264.73 L341.25,264.58 L342.00,264.44 L342.75,264.30 L343.50,264.16 L344.25,264.02 L345.00,263.89 L345.75,263.75 L346.50,263.62 L347.25,263.49 L348.00,263.37 L348.75,263.24 L349.50,263.12 L350.25,263.00 L350.90,262.90 L351.00,262.89 L351.74,262.77 L352.49,262.66 L353.24,262.55 L353.99,262.44 L354.74,262.33 L355.49,262.22 L356.24,262.11 L356.99,262.01 L357.74,261.90 L358.49,261.80 L359.24,261.70 L359.99,261.60 L360.74,261.50 L361.49,261.40 L362.24,261.30 L362.98,261.21 L363.73,261.11 L364.48,261.01 L365.23,260.92 L365.98,260.83 L366.73,260.73 L367.48,260.64 L368.23,260.55 L368.98,260.46 L369.73,260.37 L370.48,260.28 L371.23,260.19 L371.98,260.10 L372.73,260.01 L373.47,259.93 L374.22,259.84 L374.97,259.75 L375.72,259.67 L376.30,259.60 L376.47,259.58 L377.22,259.49 L377.97,259.41 L378.72,259.33 L379.47,259.24 L380.22,259.16 L380.97,259.08 L381.72,258.99 L382.47,258.91 L383.22,258.83 L383.96,258.75 L384.71,258.67 L385.46,258.59 L386.21,258.51 L386.96,258.43 L387.71,258.35 L388.46,258.27 L389.21,258.20 L389.96,258.12 L390.71,258.05 L391.46,257.97 L392.21,257.90 L392.96,257.82 L393.71,257.75 L394.45,257.67 L395.20,257.60 L395.95,257.53 L396.70,257.46 L397.45,257.39 L398.20,257.32 L398.95,257.25 L399.70,257.18 L400.45,257.11 L401.20,257.04 L401.70,257.00 L401.95,256.98 L402.70,256.91 L403.45,256.85 L404.20,256.78 L404.95,256.72 L405.69,256.66 L406.44,256.60 L407.19,256.54 L407.94,256.48 L408.69,256.42 L409.44,256.36 L410.19,256.30 L410.94,256.25 L411.69,256.19 L412.44,256.13 L413.19,256.08 L413.94,256.02 L414.69,255.96 L415.44,255.91 L416.18,255.85 L416.93,255.79 L417.68,255.74 L418.43,255.68 L419.18,255.63 L419.93,255.57 L420.68,255.51 L421.43,255.45 L422.18,255.40 L422.93,255.34 L423.68,255.28 L424.43,255.22 L425.18,255.16 L425.93,255.10 L426.67,255.04 L427.10,255.00 L427.42,254.97 L428.17,254.91 L428.92,254.85 L429.67,254.79 L430.42,254.72 L431.17,254.66 L431.92,254.60 L432.67,254.54 L433.42,254.48 L434.17,254.41 L434.92,254.35 L435.67,254.29 L436.42,254.23 L437.16,254.16 L437.91,254.10 L438.66,254.04 L439.41,253.97 L440.16,253.91 L440.91,253.84 L441.66,253.78 L442.41,253.71 L443.16,253.64 L443.91,253.57 L444.66,253.50 L445.41,253.43 L446.16,253.36 L446.91,253.29 L447.66,253.22 L448.40,253.14 L449.15,253.07 L449.90,252.99 L450.65,252.91 L451.40,252.83 L452.15,252.75 L452.60,252.70 L452.90,252.67 L453.65,252.58 L454.40,252.48 L455.15,252.39 L455.90,252.29 L456.65,252.18 L457.40,252.08 L458.15,251.97 L458.89,251.86 L459.64,251.76 L460.39,251.65 L461.14,251.55 L461.89,251.45 L462.64,251.35 L462.70,251.35 L463.39,251.26 L464.14,251.17 L464.89,251.08 L465.64,251.00 L466.39,250.91 L467.14,250.83 L467.89,250.74 L468.64,250.66 L469.38,250.57 L470.00,250.50 L470.13,250.48 L470.88,250.39 L471.63,250.30 L472.38,250.21 L473.13,250.12 L473.88,250.03 L474.63,249.94 L475.38,249.84 L476.13,249.75 L476.88,249.66 L477.63,249.57 L478.38,249.48 L479.13,249.40 L479.88,249.31 L480.00,249.30 L480.62,249.23 L481.37,249.15 L482.12,249.07 L482.87,248.99 L483.62,248.91 L484.37,248.83 L485.12,248.75 L485.87,248.67 L486.62,248.60 L487.37,248.52 L488.12,248.44 L488.87,248.37 L489.62,248.29 L490.37,248.22 L491.11,248.14 L491.86,248.07 L492.61,248.00 L493.36,247.92 L494.11,247.85 L494.86,247.78 L495.61,247.70 L496.36,247.63 L497.11,247.56 L497.86,247.48 L498.61,247.41 L499.36,247.34 L500.00,247.27 L500.11,247.26 L500.86,247.19 L501.60,247.12 L502.35,247.04 L503.10,246.97 L503.85,246.89 L504.60,246.81 L505.35,246.74 L506.10,246.66 L506.85,246.59 L507.60,246.51 L508.35,246.43 L509.10,246.36 L509.85,246.28 L510.60,246.20 L511.35,246.13 L512.09,246.05 L512.84,245.98 L513.59,245.90 L514.34,245.83 L515.09,245.75 L515.84,245.68 L516.59,245.61 L517.34,245.54 L518.09,245.46 L518.84,245.39 L519.59,245.32 L520.34,245.25 L521.09,245.18 L521.84,245.12 L522.59,245.05 L523.33,244.98 L524.08,244.92 L524.83,244.85 L525.58,244.79 L526.33,244.73 L527.08,244.67 L527.83,244.61 L528.58,244.55 L529.30,244.50 L529.33,244.50 L530.08,244.44 L530.83,244.39 L531.58,244.34 L532.33,244.28 L533.08,244.23 L533.82,244.18 L534.57,244.13 L535.32,244.08 L536.07,244.04 L536.82,243.99 L537.57,243.94 L538.32,243.89 L539.07,243.85 L539.82,243.80 L540.57,243.76 L541.32,243.71 L542.07,243.67 L542.82,243.62 L543.57,243.58 L544.31,243.54 L545.06,243.49 L545.81,243.45 L546.56,243.41 L547.31,243.37 L548.06,243.33 L548.81,243.28 L549.56,243.24 L550.31,243.20 L551.06,243.16 L551.81,243.12 L552.56,243.07 L553.31,243.03 L554.06,242.99 L554.81,242.95 L555.55,242.91 L556.30,242.86 L557.05,242.82 L557.80,242.78 L558.55,242.73 L559.30,242.69 L560.00,242.65 L560.05,242.65 L560.80,242.60 L561.55,242.56 L562.30,242.51 L563.05,242.47 L563.80,242.43 L564.55,242.38 L565.30,242.34 L566.04,242.29 L566.79,242.25 L567.54,242.20 L568.29,242.16 L569.04,242.12 L569.79,242.07 L570.54,242.03 L571.29,241.98 L572.04,241.94 L572.79,241.89 L573.54,241.85 L574.29,241.81 L575.04,241.76 L575.79,241.72 L576.53,241.68 L577.28,241.63 L578.03,241.59 L578.78,241.55 L579.53,241.50 L580.28,241.46 L581.03,241.42 L581.78,241.38 L582.53,241.33 L583.28,241.29 L584.03,241.25 L584.78,241.21 L585.53,241.17 L586.28,241.12 L587.02,241.08 L587.77,241.04 L588.52,241.00 L588.70,240.99 L589.27,240.96 L590.02,240.92 L590.77,240.88 L591.52,240.84 L592.27,240.80 L593.02,240.76 L593.77,240.72 L594.52,240.68 L595.27,240.65 L596.02,240.61 L596.77,240.57 L597.52,240.53 L598.26,240.49 L599.01,240.46 L599.76,240.42 L600.51,240.38 L601.26,240.34 L602.01,240.31 L602.76,240.27 L603.51,240.23 L604.26,240.19 L605.01,240.16 L605.76,240.12 L606.51,240.08 L607.26,240.04 L608.01,240.01 L608.75,239.97 L609.50,239.93 L610.25,239.90 L611.00,239.86 L611.75,239.82 L612.50,239.78 L613.25,239.75 L614.00,239.71 L614.75,239.67 L615.50,239.63 L616.25,239.59 L617.00,239.56 L617.75,239.52 L618.50,239.48 L619.24,239.44 L619.99,239.40 L620.00,239.40 L620.74,239.36 L621.49,239.32 L622.24,239.28 L622.99,239.24 L623.74,239.20 L624.49,239.16 L625.24,239.12 L625.99,239.08 L626.74,239.04 L627.49,238.99 L628.24,238.95 L628.99,238.91 L629.74,238.87 L630.48,238.83 L631.23,238.79 L631.98,238.74 L632.73,238.70 L633.48,238.66 L634.23,238.62 L634.98,238.58 L635.73,238.54 L636.48,238.49 L637.23,238.45 L637.98,238.41 L638.73,238.37 L639.48,238.33 L640.23,238.29 L640.97,238.25 L641.72,238.21 L642.47,238.17 L643.22,238.13 L643.97,238.09 L644.72,238.05 L645.47,238.01 L646.22,237.97 L646.97,237.94 L647.72,237.90 L648.00,237.88 L648.47,237.86 L649.22,237.82 L649.97,237.79 L650.72,237.75 L651.46,237.72 L652.21,237.68 L652.96,237.64 L653.71,237.61 L654.46,237.57 L655.21,237.54 L655.96,237.50 L656.71,237.47 L657.46,237.43 L658.21,237.40 L658.96,237.36 L659.71,237.33 L660.46,237.30 L661.21,237.26 L661.95,237.23 L662.70,237.20 L663.45,237.16 L664.20,237.13 L664.95,237.10 L665.70,237.06 L666.45,237.03 L667.20,237.00" fill="none" stroke="#808080" stroke-width="2.35" stroke-dasharray="2.2 1.4 2.2 1.4 2.2 1.4 2.2 3.2"/>
<path d="M132.20,466.00 L132.95,463.89 L133.70,461.83 L134.45,459.81 L135.20,457.83 L135.95,455.90 L136.30,455.00 L136.70,454.00 L137.45,452.15 L138.19,450.35 L138.94,448.63 L139.00,448.50 L139.69,446.99 L140.44,445.43 L141.19,443.91 L141.94,442.42 L142.10,442.10 L142.69,440.94 L143.44,439.49 L144.19,438.07 L144.94,436.68 L145.20,436.20 L145.69,435.33 L146.44,434.02 L147.19,432.74 L147.94,431.46 L148.50,430.50 L148.68,430.18 L149.43,428.90 L150.18,427.61 L150.93,426.33 L151.68,425.05 L152.43,423.77 L153.18,422.50 L153.93,421.23 L154.68,419.97 L154.90,419.60 L155.43,418.72 L156.18,417.49 L156.93,416.27 L157.68,415.06 L158.43,413.85 L159.17,412.62 L159.92,411.38 L160.67,410.12 L160.80,409.90 L161.42,408.83 L162.17,407.53 L162.92,406.21 L163.67,404.88 L164.42,403.53 L165.17,402.16 L165.92,400.75 L166.00,400.60 L166.67,399.32 L167.42,397.87 L168.17,396.39 L168.92,394.88 L169.66,393.36 L170.41,391.82 L171.16,390.26 L171.91,388.69 L172.10,388.30 L172.66,387.11 L173.41,385.50 L174.16,383.87 L174.91,382.23 L175.66,380.57 L176.41,378.90 L177.16,377.22 L177.91,375.53 L178.50,374.20 L178.66,373.85 L179.41,372.16 L180.16,370.45 L180.90,368.75 L181.65,367.03 L182.40,365.30 L183.15,363.57 L183.90,361.83 L184.65,360.08 L184.90,359.50 L185.40,358.32 L186.15,356.55 L186.90,354.75 L187.65,352.95 L188.40,351.14 L189.15,349.34 L189.90,347.56 L190.65,345.79 L191.20,344.50 L191.39,344.05 L192.14,342.33 L192.89,340.62 L193.64,338.92 L194.39,337.23 L195.14,335.55 L195.89,333.88 L196.64,332.22 L197.39,330.56 L198.14,328.91 L198.60,327.90 L198.89,327.27 L199.64,325.61 L200.39,323.94 L201.14,322.28 L201.88,320.62 L202.63,318.99 L203.38,317.39 L204.13,315.83 L204.88,314.32 L205.30,313.50 L205.63,312.86 L206.38,311.43 L207.13,310.02 L207.88,308.63 L208.63,307.28 L209.38,305.96 L210.13,304.69 L210.88,303.47 L211.63,302.30 L212.10,301.60 L212.38,301.20 L213.12,300.14 L213.87,299.13 L214.62,298.15 L215.37,297.20 L216.12,296.28 L216.87,295.39 L217.62,294.53 L218.37,293.68 L218.90,293.10 L219.12,292.86 L219.87,292.05 L220.62,291.24 L221.37,290.47 L222.12,289.73 L222.87,289.03 L223.61,288.40 L224.00,288.10 L224.36,287.82 L225.11,287.26 L225.86,286.72 L226.61,286.23 L227.36,285.82 L228.11,285.53 L228.20,285.50 L228.86,285.31 L229.61,285.12 L230.36,284.94 L231.11,284.81 L231.86,284.72 L232.50,284.70 L232.61,284.70 L233.36,284.75 L234.10,284.87 L234.85,285.04 L235.60,285.24 L236.35,285.46 L237.10,285.69 L237.50,285.80 L237.85,285.91 L238.60,286.17 L239.35,286.49 L240.10,286.82 L240.85,287.17 L241.60,287.49 L242.35,287.78 L243.10,288.01 L243.50,288.10 L243.85,288.17 L244.59,288.32 L245.34,288.46 L246.09,288.59 L246.84,288.71 L247.59,288.80 L248.34,288.86 L249.09,288.90 L249.40,288.90 L249.84,288.89 L250.59,288.82 L251.34,288.70 L252.09,288.53 L252.84,288.32 L253.59,288.09 L254.34,287.84 L255.09,287.58 L255.83,287.32 L256.20,287.20 L256.58,287.07 L257.33,286.77 L258.08,286.43 L258.83,286.06 L259.58,285.67 L260.33,285.27 L261.08,284.85 L261.83,284.43 L262.58,284.02 L263.00,283.80 L263.33,283.63 L264.08,283.22 L264.83,282.81 L265.58,282.39 L266.32,281.96 L267.07,281.54 L267.82,281.12 L268.57,280.71 L269.32,280.30 L269.70,280.10 L270.07,279.90 L270.82,279.50 L271.57,279.10 L272.32,278.70 L273.07,278.30 L273.82,277.92 L274.57,277.55 L275.32,277.20 L276.07,276.88 L276.50,276.70 L276.81,276.58 L277.56,276.29 L278.31,276.02 L279.06,275.76 L279.81,275.51 L280.56,275.27 L281.31,275.04 L282.06,274.83 L282.81,274.63 L283.30,274.50 L283.56,274.44 L284.31,274.25 L285.06,274.08 L285.81,273.91 L286.56,273.74 L287.31,273.59 L288.05,273.45 L288.80,273.31 L289.55,273.18 L290.10,273.10 L290.30,273.07 L291.05,272.95 L291.80,272.83 L292.55,272.71 L293.30,272.60 L294.05,272.50 L294.80,272.41 L295.55,272.35 L296.30,272.31 L296.90,272.30 L297.05,272.30 L297.80,272.32 L298.54,272.35 L299.29,272.39 L300.00,272.40 L300.04,272.40 L300.79,272.38 L301.54,272.33 L302.29,272.25 L303.04,272.17 L303.79,272.08 L304.50,272.00 L304.54,272.00 L305.29,271.92 L306.04,271.84 L306.79,271.77 L307.54,271.69 L308.29,271.60 L309.03,271.52 L309.78,271.42 L310.53,271.33 L311.28,271.22 L312.03,271.11 L312.70,271.00 L312.78,270.99 L313.53,270.85 L314.28,270.68 L315.03,270.50 L315.78,270.30 L316.53,270.10 L317.28,269.89 L318.03,269.67 L318.78,269.46 L319.00,269.40 L319.52,269.25 L320.27,269.03 L321.02,268.80 L321.77,268.57 L322.52,268.34 L323.27,268.11 L324.02,267.88 L324.77,267.67 L325.40,267.50 L325.52,267.47 L326.27,267.28 L327.02,267.09 L327.77,266.91 L328.52,266.73 L329.27,266.56 L330.02,266.39 L330.76,266.22 L331.51,266.06 L332.26,265.90 L333.01,265.74 L333.76,265.58 L334.51,265.42 L335.26,265.27 L336.01,265.12 L336.76,264.97 L337.51,264.82 L338.10,264.70 L338.26,264.67 L339.01,264.52 L339.76,264.37 L340.51,264.23 L341.25,264.08 L342.00,263.94 L342.75,263.80 L343.50,263.66 L344.25,263.52 L345.00,263.39 L345.75,263.25 L346.50,263.12 L347.25,262.99 L348.00,262.87 L348.75,262.74 L349.50,262.62 L350.25,262.50 L350.90,262.40 L351.00,262.39 L351.74,262.27 L352.49,262.16 L353.24,262.05 L353.99,261.94 L354.74,261.83 L355.49,261.72 L356.24,261.61 L356.99,261.51 L357.74,261.40 L358.49,261.30 L359.24,261.20 L359.99,261.10 L360.74,261.00 L361.49,260.90 L362.24,260.80 L362.98,260.71 L363.73,260.61 L364.48,260.51 L365.23,260.42 L365.98,260.33 L366.73,260.23 L367.48,260.14 L368.23,260.05 L368.98,259.96 L369.73,259.87 L370.48,259.78 L371.23,259.69 L371.98,259.60 L372.73,259.51 L373.47,259.43 L374.22,259.34 L374.97,259.25 L375.72,259.17 L376.30,259.10 L376.47,259.08 L377.22,258.99 L377.97,258.91 L378.72,258.83 L379.47,258.74 L380.22,258.66 L380.97,258.58 L381.72,258.49 L382.47,258.41 L383.22,258.33 L383.96,258.25 L384.71,258.17 L385.46,258.09 L386.21,258.01 L386.96,257.93 L387.71,257.85 L388.46,257.77 L389.21,257.70 L389.96,257.62 L390.71,257.55 L391.46,257.47 L392.21,257.40 L392.96,257.32 L393.71,257.25 L394.45,257.17 L395.20,257.10 L395.95,257.03 L396.70,256.96 L397.45,256.89 L398.20,256.82 L398.95,256.75 L399.70,256.68 L400.45,256.61 L401.20,256.54 L401.70,256.50 L401.95,256.48 L402.70,256.41 L403.45,256.35 L404.20,256.28 L404.95,256.22 L405.69,256.16 L406.44,256.10 L407.19,256.04 L407.94,255.98 L408.69,255.92 L409.44,255.86 L410.19,255.80 L410.94,255.75 L411.69,255.69 L412.44,255.63 L413.19,255.58 L413.94,255.52 L414.69,255.46 L415.44,255.41 L416.18,255.35 L416.93,255.29 L417.68,255.24 L418.43,255.18 L419.18,255.13 L419.93,255.07 L420.68,255.01 L421.43,254.95 L422.18,254.90 L422.93,254.84 L423.68,254.78 L424.43,254.72 L425.18,254.66 L425.93,254.60 L426.67,254.54 L427.10,254.50 L427.42,254.47 L428.17,254.41 L428.92,254.35 L429.67,254.29 L430.42,254.22 L431.17,254.16 L431.92,254.10 L432.67,254.04 L433.42,253.97 L434.17,253.91 L434.92,253.85 L435.67,253.79 L436.42,253.72 L437.16,253.66 L437.91,253.60 L438.66,253.53 L439.41,253.47 L440.16,253.40 L440.91,253.34 L441.66,253.27 L442.41,253.20 L443.16,253.13 L443.91,253.07 L444.66,253.00 L445.41,252.93 L446.16,252.86 L446.91,252.78 L447.66,252.71 L448.40,252.64 L449.15,252.56 L449.90,252.48 L450.65,252.41 L451.40,252.33 L452.15,252.25 L452.60,252.20 L452.90,252.17 L453.65,252.08 L454.40,251.99 L455.15,251.89 L455.90,251.79 L456.65,251.69 L457.40,251.59 L458.15,251.48 L458.89,251.38 L459.64,251.28 L460.39,251.18 L461.14,251.08 L461.89,250.99 L462.64,250.91 L462.70,250.90 L463.39,250.83 L464.14,250.75 L464.89,250.68 L465.64,250.61 L466.39,250.54 L467.14,250.47 L467.89,250.40 L468.64,250.33 L469.38,250.26 L470.00,250.20 L470.13,250.19 L470.88,250.11 L471.63,250.04 L472.38,249.96 L473.13,249.88 L473.88,249.81 L474.63,249.73 L475.38,249.65 L476.13,249.57 L476.88,249.50 L477.63,249.42 L478.38,249.35 L479.13,249.28 L479.88,249.21 L480.00,249.20 L480.62,249.14 L481.37,249.08 L482.12,249.01 L482.87,248.95 L483.62,248.89 L484.37,248.82 L485.12,248.76 L485.87,248.70 L486.62,248.64 L487.37,248.58 L488.12,248.52 L488.87,248.47 L489.62,248.41 L490.37,248.35 L491.11,248.29 L491.86,248.23 L492.61,248.18 L493.36,248.12 L494.11,248.06 L494.86,248.00 L495.61,247.95 L496.36,247.89 L497.11,247.83 L497.86,247.77 L498.61,247.71 L499.36,247.65 L500.00,247.60 L500.11,247.59 L500.86,247.53 L501.60,247.47 L502.35,247.41 L503.10,247.34 L503.85,247.28 L504.60,247.22 L505.35,247.15 L506.10,247.09 L506.85,247.02 L507.60,246.96 L508.35,246.89 L509.10,246.82 L509.85,246.76 L510.60,246.69 L511.35,246.63 L512.09,246.56 L512.84,246.49 L513.59,246.43 L514.34,246.36 L515.09,246.30 L515.84,246.23 L516.59,246.17 L517.34,246.11 L518.09,246.04 L518.84,245.98 L519.59,245.92 L520.34,245.86 L521.09,245.80 L521.84,245.74 L522.59,245.68 L523.33,245.62 L524.08,245.56 L524.83,245.51 L525.58,245.45 L526.33,245.40 L527.08,245.35 L527.83,245.30 L528.58,245.25 L529.30,245.20 L529.33,245.20 L530.08,245.15 L530.83,245.10 L531.58,245.06 L532.33,245.01 L533.08,244.97 L533.82,244.92 L534.57,244.88 L535.32,244.84 L536.07,244.80 L536.82,244.76 L537.57,244.71 L538.32,244.67 L539.07,244.63 L539.82,244.59 L540.57,244.56 L541.32,244.52 L542.07,244.48 L542.82,244.44 L543.57,244.40 L544.31,244.37 L545.06,244.33 L545.81,244.29 L546.56,244.25 L547.31,244.22 L548.06,244.18 L548.81,244.14 L549.56,244.11 L550.31,244.07 L551.06,244.04 L551.81,244.00 L552.56,243.96 L553.31,243.93 L554.06,243.89 L554.81,243.86 L555.55,243.82 L556.30,243.78 L557.05,243.75 L557.80,243.71 L558.55,243.67 L559.30,243.64 L560.00,243.60 L560.05,243.60 L560.80,243.56 L561.55,243.52 L562.30,243.48 L563.05,243.45 L563.80,243.41 L564.55,243.37 L565.30,243.33 L566.04,243.29 L566.79,243.26 L567.54,243.22 L568.29,243.18 L569.04,243.14 L569.79,243.10 L570.54,243.06 L571.29,243.03 L572.04,242.99 L572.79,242.95 L573.54,242.91 L574.29,242.88 L575.04,242.84 L575.79,242.80 L576.53,242.77 L577.28,242.73 L578.03,242.69 L578.78,242.66 L579.53,242.62 L580.28,242.58 L581.03,242.55 L581.78,242.51 L582.53,242.48 L583.28,242.44 L584.03,242.41 L584.78,242.37 L585.53,242.34 L586.28,242.31 L587.02,242.27 L587.77,242.24 L588.52,242.21 L588.70,242.20 L589.27,242.18 L590.02,242.14 L590.77,242.11 L591.52,242.08 L592.27,242.05 L593.02,242.02 L593.77,241.99 L594.52,241.96 L595.27,241.93 L596.02,241.90 L596.77,241.87 L597.52,241.84 L598.26,241.81 L599.01,241.78 L599.76,241.76 L600.51,241.73 L601.26,241.70 L602.01,241.67 L602.76,241.64 L603.51,241.61 L604.26,241.59 L605.01,241.56 L605.76,241.53 L606.51,241.50 L607.26,241.48 L608.01,241.45 L608.75,241.42 L609.50,241.39 L610.25,241.37 L611.00,241.34 L611.75,241.31 L612.50,241.28 L613.25,241.26 L614.00,241.23 L614.75,241.20 L615.50,241.17 L616.25,241.14 L617.00,241.12 L617.75,241.09 L618.50,241.06 L619.24,241.03 L619.99,241.00 L620.00,241.00 L620.74,240.97 L621.49,240.94 L622.24,240.91 L622.99,240.88 L623.74,240.85 L624.49,240.82 L625.24,240.79 L625.99,240.76 L626.74,240.73 L627.49,240.70 L628.24,240.67 L628.99,240.64 L629.74,240.61 L630.48,240.58 L631.23,240.55 L631.98,240.52 L632.73,240.49 L633.48,240.46 L634.23,240.43 L634.98,240.40 L635.73,240.37 L636.48,240.34 L637.23,240.31 L637.98,240.28 L638.73,240.25 L639.48,240.22 L640.23,240.19 L640.97,240.16 L641.72,240.13 L642.47,240.10 L643.22,240.07 L643.97,240.04 L644.72,240.02 L645.47,239.99 L646.22,239.96 L646.97,239.94 L647.72,239.91 L648.00,239.90 L648.47,239.88 L649.22,239.86 L649.97,239.83 L650.72,239.81 L651.46,239.78 L652.21,239.76 L652.96,239.73 L653.71,239.71 L654.46,239.68 L655.21,239.66 L655.96,239.64 L656.71,239.61 L657.46,239.59 L658.21,239.57 L658.96,239.54 L659.71,239.52 L660.46,239.50 L661.21,239.47 L661.95,239.45 L662.70,239.43 L663.45,239.41 L664.20,239.39 L664.95,239.36 L665.70,239.34 L666.45,239.32 L667.20,239.30" fill="none" stroke="#ff2200" stroke-width="3.0"/>
<path d="M218.71,257.5 V456" stroke="#00ee00" stroke-width="2.0" stroke-dasharray="3.7 1.7" stroke-dashoffset="0.3" fill="none"/>
<path d="M463.29,224.7 V456" stroke="#00ee00" stroke-width="2.0" stroke-dasharray="3.7 1.7" stroke-dashoffset="2.0" fill="none"/>
</g>
<path d="M616.40,267.30 H652.40" stroke="#ff2200" stroke-width="2.5" fill="none"/>
<path d="M616.40,284.20 H652.40" stroke="#00ee00" stroke-width="2.5" stroke-dasharray="3.8 1.6" fill="none"/>
<path d="M616.40,301.10 H652.00" stroke="#0022ff" stroke-width="2.5" stroke-dasharray="2.2 2.28" fill="none"/>
<path d="M616.40,316.30 H651.40" stroke="#ff30ff" stroke-width="2.5" stroke-dasharray="1.1 1.1" fill="none"/>
<path d="M616.40,335.00 H651.80" stroke="#00f4f4" stroke-width="2.5" stroke-dasharray="4.9 1.5 1.3 1.27" fill="none"/>
<path d="M616.40,351.80 H652.40" stroke="#ff5500" stroke-width="2.5" stroke-dasharray="2.2 1.4 2.2 1.4 2.2 3.2" fill="none"/>
<path d="M616.40,368.70 H651.00" stroke="#000000" stroke-width="2.5" stroke-dasharray="2.2 1.4 2.2 3.17" fill="none"/>
<path d="M616.40,385.80 H650.20" stroke="#fff400" stroke-width="2.5" stroke-dasharray="4.2 2.3 1.0 2.4" fill="none"/>
<path d="M616.40,406.20 H652.40" stroke="#808080" stroke-width="2.35" stroke-dasharray="2.2 1.4 2.2 1.4 2.2 1.4 2.2 3.2" fill="none"/>
<path d="M616.40,428.50 H652.40" stroke="#ff2200" stroke-width="2.55" fill="none"/>
<rect x="123.70" y="59.80" width="543.50" height="396.00" stroke="#000" fill="none" stroke-width="2.1"/>
</svg>
<svg width="708" height="545" viewBox="0 0 708 545" style="position:absolute;left:0;top:0;will-change:transform" font-family="Liberation Sans, sans-serif" fill="#000">
<text x="115.20" y="96.95" font-size="17.70" text-anchor="end">1</text>
<text x="115.20" y="162.95" font-size="17.70" text-anchor="end">0.01</text>
<text x="115.20" y="228.95" font-size="17.70" text-anchor="end">1e-04</text>
<text x="115.20" y="294.95" font-size="17.70" text-anchor="end">1e-06</text>
<text x="115.20" y="360.95" font-size="17.70" text-anchor="end">1e-08</text>
<text x="115.20" y="426.95" font-size="17.70" text-anchor="end">1e-10</text>
<text x="126.00" y="473.00" font-size="17.70" text-anchor="middle">5</text>
<text x="193.94" y="473.00" font-size="17.70" text-anchor="middle">10</text>
<text x="261.88" y="473.00" font-size="17.70" text-anchor="middle">15</text>
<text x="329.81" y="473.00" font-size="17.70" text-anchor="middle">20</text>
<text x="397.75" y="473.00" font-size="17.70" text-anchor="middle">25</text>
<text x="465.69" y="473.00" font-size="17.70" text-anchor="middle">30</text>
<text x="533.62" y="473.00" font-size="17.70" text-anchor="middle">35</text>
<text x="601.56" y="473.00" font-size="17.70" text-anchor="middle">40</text>
<text x="669.50" y="473.00" font-size="17.70" text-anchor="middle">45</text>
<text x="395.20" y="493.00" font-size="19.00" text-anchor="middle">mt</text>
<text x="131.60" y="285.70" font-size="19.30" text-anchor="start">tachyonic</text>
<text x="140.00" y="304.70" font-size="19.30" text-anchor="start">growth</text>
<text x="268.80" y="249.90" font-size="19.70" text-anchor="start">bubble collisions</text>
<text x="536.20" y="234.60" font-size="19.30" text-anchor="start">turbulence</text>
<text x="608.60" y="271.20" font-size="17.70" text-anchor="end">total</text>
<text x="608.60" y="288.30" font-size="17.70" text-anchor="end">kinetic</text>
<text x="608.60" y="304.80" font-size="17.70" text-anchor="end">gradient</text>
<text x="608.60" y="319.80" font-size="17.70" text-anchor="end">potential</text>
<text x="608.60" y="337.80" font-size="17.70" text-anchor="end"><tspan font-family="Liberation Serif" font-size="18.2">&#928;</tspan><tspan font-size="14.0" dy="3.60">12</tspan><tspan dy="-3.60" font-size="1">&#8203;</tspan></text>
<text x="608.60" y="354.40" font-size="17.70" text-anchor="end"><tspan font-family="Liberation Serif" font-size="18.2">&#928;</tspan><tspan font-size="14.0" dy="3.60">23</tspan><tspan dy="-3.60" font-size="1">&#8203;</tspan></text>
<text x="608.60" y="371.80" font-size="17.70" text-anchor="end"><tspan font-family="Liberation Serif" font-size="18.2">&#928;</tspan><tspan font-size="14.0" dy="3.60">31</tspan><tspan dy="-3.60" font-size="1">&#8203;</tspan></text>
<text x="608.60" y="389.80" font-size="17.70" text-anchor="end">&#961;<tspan font-size="14.0" dy="3.60">gw</tspan><tspan dy="-3.60" font-size="1">&#8203;</tspan><tspan dx="-1"> v=0.001 </tspan><tspan dx="2">M</tspan><tspan font-size="14.0" dy="2.70">p</tspan><tspan dy="-2.70" font-size="1">&#8203;</tspan></text>
<text x="608.60" y="411.30" font-size="17.70" text-anchor="end">&#961;<tspan font-size="14.0" dy="3.60">gw</tspan><tspan dy="-3.60" font-size="1">&#8203;</tspan>/10<tspan font-size="14.0" dy="-6.40">4</tspan><tspan dy="6.40" font-size="1">&#8203;</tspan><tspan dx="-1"> v=0.1 </tspan><tspan dx="2">M</tspan><tspan font-size="14.0" dy="2.70">p</tspan><tspan dy="-2.70" font-size="1">&#8203;</tspan></text>
<text x="608.60" y="433.80" font-size="17.70" text-anchor="end">&#961;<tspan font-size="14.0" dy="3.60">gw</tspan><tspan dy="-3.60" font-size="1">&#8203;</tspan>/10<tspan font-size="14.0" dy="-6.40">2</tspan><tspan dy="6.40" font-size="1">&#8203;</tspan><tspan dx="-1"> v=0.01 </tspan><tspan dx="2">M</tspan><tspan font-size="14.0" dy="2.70">p</tspan><tspan dy="-2.70" font-size="1">&#8203;</tspan></text>
<text transform="translate(62.5,297.7) rotate(-90)" font-size="18.60">energy/&#961;<tspan font-size="15" dy="5.0">0</tspan></text>
</svg>
</div></body></html>
